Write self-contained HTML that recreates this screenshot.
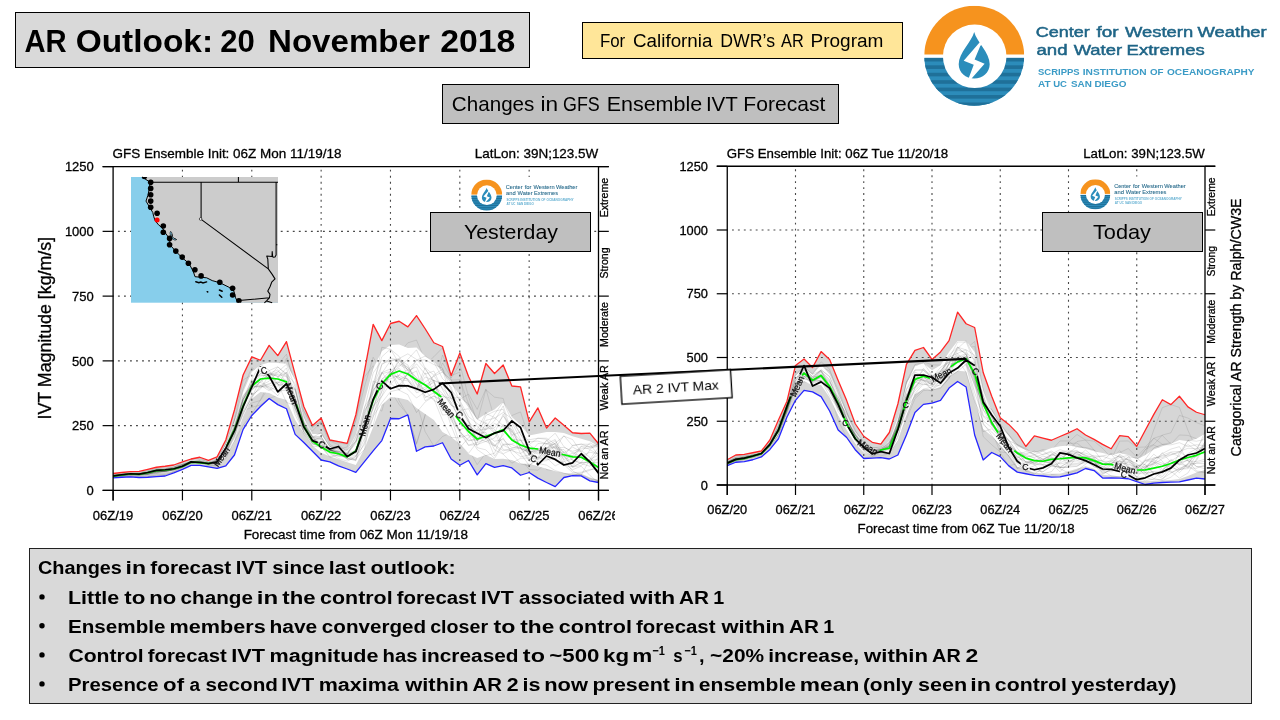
<!DOCTYPE html>
<html><head><meta charset="utf-8"><title>AR Outlook: 20 November 2018</title>
<style>
html,body{margin:0;padding:0;background:#fff;}
body{width:1280px;height:720px;position:relative;overflow:hidden;font-family:"Liberation Sans",sans-serif;}
</style></head><body>
<svg width="1280" height="720" viewBox="0 0 1280 720" style="position:absolute;left:0;top:0;will-change:transform" font-family="Liberation Sans, sans-serif">
<style>.grid{stroke:#484848;stroke-width:1.1}#frameL text,#frameR text,.axt{stroke:#000;stroke-width:0.3px}text{font-family:"Liberation Sans",sans-serif}</style>
<g id="chartL"><mask id="mM11" maskUnits="userSpaceOnUse" x="0" y="0" width="1280" height="720"><rect width="1280" height="720" fill="#fff"/>
<rect transform="translate(221.3 456.6) rotate(-55)" x="-12" y="-4.5" width="24" height="9" fill="#000"/>
<rect transform="translate(291.4 393.6) rotate(68)" x="-12" y="-4.5" width="24" height="9" fill="#000"/>
<rect transform="translate(364.5 425.5) rotate(-75)" x="-12" y="-4.5" width="24" height="9" fill="#000"/>
<rect transform="translate(446.6 408) rotate(50)" x="-12" y="-4.5" width="24" height="9" fill="#000"/>
<rect transform="translate(550 451.6) rotate(10)" x="-12" y="-4.5" width="24" height="9" fill="#000"/>
</mask>
<mask id="mC11" maskUnits="userSpaceOnUse" x="0" y="0" width="1280" height="720"><rect width="1280" height="720" fill="#fff"/>
<rect transform="translate(263.9 370.4) rotate(-15)" x="-4.5" y="-4.5" width="9" height="9" fill="#000"/>
<rect transform="translate(321.9 444.4) rotate(25)" x="-4.5" y="-4.5" width="9" height="9" fill="#000"/>
<rect transform="translate(379.5 386.2) rotate(-50)" x="-4.5" y="-4.5" width="9" height="9" fill="#000"/>
<rect transform="translate(459.5 414.6) rotate(50)" x="-4.5" y="-4.5" width="9" height="9" fill="#000"/>
<rect transform="translate(533.8 458.6) rotate(25)" x="-4.5" y="-4.5" width="9" height="9" fill="#000"/>
</mask>
<path d="M113.1 473.5 L121.77 472.5 L130.44 471.6 L139.11 471.4 L147.77 469.4 L156.44 467.25 L165.11 466.25 L173.78 465 L182.45 461.9 L191.12 459 L199.79 457.25 L208.46 460.4 L217.12 456.9 L225.79 440 L234.46 410 L243.13 375 L251.8 356.9 L260.47 360.25 L269.14 345.4 L277.81 355.6 L286.48 341.6 L295.14 374.4 L303.81 406.5 L312.48 425.4 L321.15 418.1 L329.82 440 L338.49 441.6 L347.16 443.4 L355.82 415 L364.49 371 L373.16 324.4 L381.83 340.6 L390.5 323.5 L399.17 321.25 L407.84 326.9 L416.51 315.6 L425.17 328.75 L433.84 342.75 L442.51 346.5 L451.18 375.6 L459.85 353.1 L468.52 376.5 L477.19 394 L485.86 363.5 L494.52 373.5 L503.19 365 L511.86 386 L520.53 386.9 L529.2 421.9 L537.87 407.9 L546.54 428.1 L555.21 418 L563.88 425.3 L572.54 432.75 L581.21 433.5 L589.88 433.1 L598.55 443.75 L598.55 482.5 L589.88 480.9 L581.21 475.9 L572.54 475.6 L563.88 477.5 L555.21 486.6 L546.54 482.5 L537.87 478.1 L529.2 472.5 L520.53 475.25 L511.86 467.9 L503.19 465.6 L494.52 467.4 L485.86 463.6 L477.19 474.9 L468.52 460.5 L459.85 465.3 L451.18 459 L442.51 442.75 L433.84 446 L425.17 446.9 L416.51 451.25 L407.84 414.9 L399.17 418.75 L390.5 418.5 L381.83 440.6 L373.16 450.9 L364.49 461.6 L355.82 472.4 L347.16 469 L338.49 465.9 L329.82 461.9 L321.15 460 L312.48 451.25 L303.81 442.5 L295.14 434.4 L286.48 408.75 L277.81 404.6 L269.14 398.5 L260.47 406.5 L251.8 415.5 L243.13 429.4 L234.46 455 L225.79 465.9 L217.12 468.4 L208.46 466.9 L199.79 465.4 L191.12 465.4 L182.45 469.4 L173.78 472.9 L165.11 476 L156.44 476.6 L147.77 477.25 L139.11 477.5 L130.44 476.9 L121.77 477.25 L113.1 477.9 Z" fill="#d6d6d6"/>
<path d="M113.1 475.96 L121.77 475.52 L130.44 475.33 L139.11 475.33 L147.77 473.62 L156.44 471.37 L165.11 470.18 L173.78 469.01 L182.45 465.98 L191.12 462.34 L199.79 459.64 L208.46 461.98 L217.12 460.43 L225.79 452.3 L234.46 435.05 L243.13 408.69 L251.8 403.02 L260.47 400.44 L269.14 386.81 L277.81 379.71 L286.48 358.28 L295.14 381.46 L303.81 410.68 L312.48 427.54 L321.15 420.63 L329.82 441.18 L338.49 444.62 L347.16 451.8 L355.82 443.55 L364.49 431.42 L373.16 407 L381.83 405.9 L390.5 379.77 L399.17 374.95 L407.84 374.4 L416.51 402.87 L425.17 431.69 L433.84 446 L442.51 436.51 L451.18 432.66 L459.85 399.4 L468.52 394.17 L477.19 409.38 L485.86 388.93 L494.52 418.6 L503.19 421.43 L511.86 444.35 L520.53 452.35 L529.2 460.77 L537.87 449.19 L546.54 450.84 L555.21 444.33 L563.88 456.13 L572.54 463.01 L581.21 462.5 L589.88 452.01 L598.55 451.05" fill="none" stroke="#000" stroke-opacity="0.13" stroke-width="0.7"/>
<path d="M113.1 476.73 L121.77 475.19 L130.44 473.26 L139.11 472.97 L147.77 472.78 L156.44 473.29 L165.11 472.07 L173.78 467.36 L182.45 462.13 L191.12 459 L199.79 458.12 L208.46 462.46 L217.12 461.04 L225.79 450.12 L234.46 426.19 L243.13 393.24 L251.8 379.94 L260.47 374.29 L269.14 362.79 L277.81 364.7 L286.48 354.23 L295.14 388.75 L303.81 423.83 L312.48 443.54 L321.15 451.73 L329.82 454.93 L338.49 455.49 L347.16 455.48 L355.82 447.35 L364.49 423.88 L373.16 404.68 L381.83 393.05 L390.5 370.91 L399.17 361.01 L407.84 363.73 L416.51 370.77 L425.17 364.73 L433.84 356.79 L442.51 347.84 L451.18 380.15 L459.85 379.55 L468.52 403.69 L477.19 427.92 L485.86 412.17 L494.52 431.11 L503.19 437.87 L511.86 447.48 L520.53 448.72 L529.2 449.59 L537.87 437.38 L546.54 453.56 L555.21 460.03 L563.88 457.4 L572.54 453.47 L581.21 453.15 L589.88 467.46 L598.55 482.07" fill="none" stroke="#000" stroke-opacity="0.13" stroke-width="0.7"/>
<path d="M113.1 475.88 L121.77 476.07 L130.44 476.16 L139.11 475.59 L147.77 471.96 L156.44 468.85 L165.11 468.13 L173.78 468.57 L182.45 465.43 L191.12 462.68 L199.79 461.58 L208.46 464.5 L217.12 462.55 L225.79 450.29 L234.46 421.38 L243.13 388.25 L251.8 367.41 L260.47 374.58 L269.14 372.18 L277.81 388.74 L286.48 389.24 L295.14 409.73 L303.81 423.47 L312.48 430.99 L321.15 421.74 L329.82 440.37 L338.49 442.91 L347.16 444.16 L355.82 420.49 L364.49 386.49 L373.16 357.27 L381.83 371.75 L390.5 374.38 L399.17 400.99 L407.84 414.9 L416.51 443.37 L425.17 414.67 L433.84 386.57 L442.51 355.04 L451.18 375.71 L459.85 372.07 L468.52 429.3 L477.19 456.12 L485.86 440.2 L494.52 419.45 L503.19 417.41 L511.86 427.27 L520.53 446.92 L529.2 451.83 L537.87 450.63 L546.54 453.96 L555.21 461.07 L563.88 465.67 L572.54 474.01 L581.21 474.74 L589.88 478.82 L598.55 480.44" fill="none" stroke="#000" stroke-opacity="0.13" stroke-width="0.7"/>
<path d="M113.1 477.15 L121.77 476.23 L130.44 476.03 L139.11 476.76 L147.77 476.5 L156.44 475.05 L165.11 474.45 L173.78 471.62 L182.45 467.51 L191.12 463.05 L199.79 461.69 L208.46 463.57 L217.12 461.97 L225.79 452.07 L234.46 441.12 L243.13 425.2 L251.8 414 L260.47 399.76 L269.14 382.11 L277.81 387.34 L286.48 385.19 L295.14 409.62 L303.81 427.08 L312.48 435.5 L321.15 434.61 L329.82 446.4 L338.49 450.68 L347.16 453.1 L355.82 440.03 L364.49 418.69 L373.16 405.31 L381.83 411.19 L390.5 379.82 L399.17 353.11 L407.84 342.85 L416.51 340.05 L425.17 360.4 L433.84 375.8 L442.51 386.99 L451.18 425.19 L459.85 434.41 L468.52 436.24 L477.19 449.72 L485.86 417.85 L494.52 418.25 L503.19 404.73 L511.86 432.63 L520.53 458.16 L529.2 469.55 L537.87 470.14 L546.54 463.31 L555.21 448.16 L563.88 439.72 L572.54 446.03 L581.21 455.48 L589.88 471.65 L598.55 482.5" fill="none" stroke="#000" stroke-opacity="0.13" stroke-width="0.7"/>
<path d="M113.1 477.65 L121.77 476.04 L130.44 473.96 L139.11 472.83 L147.77 470.51 L156.44 468.58 L165.11 468.35 L173.78 467.65 L182.45 465.23 L191.12 462.35 L199.79 462.52 L208.46 465.71 L217.12 465.96 L225.79 452.12 L234.46 419.23 L243.13 379.94 L251.8 374.87 L260.47 377.64 L269.14 372.29 L277.81 380.9 L286.48 373.53 L295.14 395.11 L303.81 411.17 L312.48 426.11 L321.15 422.34 L329.82 444.36 L338.49 449.36 L347.16 446.98 L355.82 419.82 L364.49 377.04 L373.16 365.7 L381.83 391.81 L390.5 390.85 L399.17 404.53 L407.84 414.9 L416.51 444.36 L425.17 415.44 L433.84 385.04 L442.51 362.92 L451.18 378.02 L459.85 364.19 L468.52 396.75 L477.19 421.78 L485.86 389.75 L494.52 397.17 L503.19 398.48 L511.86 430.46 L520.53 445.18 L529.2 457.34 L537.87 458.63 L546.54 469.63 L555.21 470.66 L563.88 465.21 L572.54 462.47 L581.21 462.9 L589.88 457.09 L598.55 457.22" fill="none" stroke="#000" stroke-opacity="0.13" stroke-width="0.7"/>
<path d="M113.1 476.09 L121.77 475.58 L130.44 475.3 L139.11 475.51 L147.77 475.1 L156.44 475.17 L165.11 475.09 L173.78 471.93 L182.45 466.94 L191.12 462.66 L199.79 461.51 L208.46 464.68 L217.12 465.57 L225.79 458.82 L234.46 440.2 L243.13 410.79 L251.8 407.38 L260.47 404.95 L269.14 398.5 L277.81 395.21 L286.48 390.85 L295.14 416.33 L303.81 434.31 L312.48 442.37 L321.15 437.55 L329.82 446.56 L338.49 450.69 L347.16 456.77 L355.82 446.88 L364.49 415.08 L373.16 367.83 L381.83 381.09 L390.5 357.63 L399.17 362.55 L407.84 358.92 L416.51 369.83 L425.17 371.67 L433.84 372.24 L442.51 375.9 L451.18 414.32 L459.85 430.91 L468.52 449.2 L477.19 464.63 L485.86 453.02 L494.52 443.39 L503.19 426 L511.86 415.52 L520.53 411.89 L529.2 438.53 L537.87 440.13 L546.54 460.42 L555.21 463.75 L563.88 462.33 L572.54 461.96 L581.21 457.35 L589.88 453.54 L598.55 456.38" fill="none" stroke="#000" stroke-opacity="0.13" stroke-width="0.7"/>
<path d="M113.1 474.99 L121.77 473.88 L130.44 472.92 L139.11 473 L147.77 471.21 L156.44 469.09 L165.11 468.31 L173.78 467.2 L182.45 464.43 L191.12 460.71 L199.79 460.25 L208.46 462.21 L217.12 459.7 L225.79 444.4 L234.46 421 L243.13 392.05 L251.8 372 L260.47 365 L269.14 362.5 L277.81 363.1 L286.48 363.75 L295.14 380 L303.81 417.36 L312.48 434.12 L321.15 433.94 L329.82 446.66 L338.49 448.28 L347.16 450.82 L355.82 434.8 L364.49 401.39 L373.16 368.75 L381.83 351.25 L390.5 345 L399.17 344.4 L407.84 348.1 L416.51 347.5 L425.17 356.25 L433.84 361.25 L442.51 372.5 L451.18 383.75 L459.85 395 L468.52 407.5 L477.19 419.4 L485.86 413.75 L494.52 409.4 L503.19 402 L511.86 416.9 L520.53 425 L529.2 435.6 L537.87 433.75 L546.54 431.9 L555.21 431.9 L563.88 433.1 L572.54 436.25 L581.21 438.75 L589.88 441.25 L598.55 446.25 L598.55 480 L589.88 477.5 L581.21 473.75 L572.54 473.5 L563.88 473.1 L555.21 471.25 L546.54 468.75 L537.87 466.25 L529.2 463.75 L520.53 463.75 L511.86 460 L503.19 458.75 L494.52 459 L485.86 455 L477.19 458 L468.52 454 L459.85 444 L451.18 437 L442.51 432 L433.84 420 L425.17 414 L416.51 408 L407.84 400 L399.17 398 L390.5 397 L381.83 405 L373.16 426.9 L364.49 448.75 L355.82 465 L347.16 462.34 L338.49 459.22 L329.82 456.51 L321.15 452.79 L312.48 445.75 L303.81 433.56 L295.14 420 L286.48 400 L277.81 397.5 L269.14 393.1 L260.47 391.9 L251.8 398.75 L243.13 416.53 L234.46 441.25 L225.79 456.06 L217.12 464.88 L208.46 465.14 L199.79 463.91 L191.12 463.58 L182.45 467.81 L173.78 470.75 L165.11 472.7 L156.44 473.3 L147.77 474.75 L139.11 475.74 L130.44 475.31 L121.77 476.01 L113.1 476.96 Z" fill="#ffffff"/>
<path d="M113.1 477.11 L121.77 475.46 L130.44 474.69 L139.11 475.13 L147.77 474.55 L156.44 472.45 L165.11 470.04 L173.78 468.62 L182.45 465.66 L191.12 462.36 L199.79 461.38 L208.46 463.84 L217.12 462.33 L225.79 452.6 L234.46 433.45 L243.13 407.7 L251.8 390.38 L260.47 381.92 L269.14 373.73 L277.81 376.59 L286.48 372.67 L295.14 408.63 L303.81 432.24 L312.48 443.92 L321.15 445.01 L329.82 448.31 L338.49 451.06 L347.16 455.83 L355.82 460.24 L364.49 442.36 L373.16 403.78 L381.83 363.54 L390.5 360.77 L399.17 377.83 L407.84 378.77 L416.51 388.4 L425.17 367.82 L433.84 375.03 L442.51 369.14 L451.18 399.39 L459.85 412.69 L468.52 427.43 L477.19 434.57 L485.86 425.24 L494.52 433.04 L503.19 414.18 L511.86 435.36 L520.53 431.79 L529.2 441.65 L537.87 441.07 L546.54 443.82 L555.21 448.32 L563.88 447.32 L572.54 451.31 L581.21 448.92 L589.88 447.79 L598.55 446.55" fill="none" stroke="#000" stroke-opacity="0.16" stroke-width="0.7"/>
<path d="M113.1 476.33 L121.77 475.23 L130.44 474.67 L139.11 474.97 L147.77 474.28 L156.44 471.57 L165.11 471.15 L173.78 469.43 L182.45 467.56 L191.12 462.83 L199.79 462.14 L208.46 463.75 L217.12 462.19 L225.79 453.56 L234.46 436.59 L243.13 409.98 L251.8 382.51 L260.47 373.64 L269.14 374.04 L277.81 373.89 L286.48 376.83 L295.14 397.33 L303.81 429.4 L312.48 439.09 L321.15 441.84 L329.82 450.32 L338.49 451.82 L347.16 453.51 L355.82 441.81 L364.49 431.31 L373.16 425.44 L381.83 390.03 L390.5 373.08 L399.17 368.31 L407.84 380.24 L416.51 389.83 L425.17 381.96 L433.84 376.05 L442.51 372.07 L451.18 379.76 L459.85 401.87 L468.52 422.51 L477.19 441.03 L485.86 429.4 L494.52 420.89 L503.19 405.89 L511.86 433.22 L520.53 453.64 L529.2 465.5 L537.87 457.45 L546.54 443.47 L555.21 444.69 L563.88 452.66 L572.54 466.17 L581.21 457.09 L589.88 460.32 L598.55 459.51" fill="none" stroke="#000" stroke-opacity="0.16" stroke-width="0.7"/>
<path d="M113.1 475.94 L121.77 474.99 L130.44 473.6 L139.11 474.13 L147.77 473.08 L156.44 471.64 L165.11 470.46 L173.78 468.77 L182.45 466.27 L191.12 461.93 L199.79 460.81 L208.46 462.81 L217.12 460.33 L225.79 449.8 L234.46 433.13 L243.13 414.65 L251.8 396.29 L260.47 387.24 L269.14 383.48 L277.81 382.46 L286.48 382.02 L295.14 411.04 L303.81 431.5 L312.48 442.92 L321.15 447.58 L329.82 453.5 L338.49 458.55 L347.16 461.12 L355.82 456.98 L364.49 438.82 L373.16 416.49 L381.83 402.69 L390.5 391.6 L399.17 389.54 L407.84 384.75 L416.51 388.96 L425.17 376.94 L433.84 380.53 L442.51 384.92 L451.18 393.36 L459.85 404.17 L468.52 419.92 L477.19 440.85 L485.86 434.27 L494.52 441.22 L503.19 439.53 L511.86 447.55 L520.53 447.36 L529.2 450.56 L537.87 454.01 L546.54 450.19 L555.21 459.4 L563.88 463.11 L572.54 469.66 L581.21 466.22 L589.88 475.46 L598.55 482.5" fill="none" stroke="#000" stroke-opacity="0.16" stroke-width="0.7"/>
<path d="M113.1 475.18 L121.77 474.82 L130.44 474.24 L139.11 474.23 L147.77 471.64 L156.44 469.47 L165.11 468.66 L173.78 467.56 L182.45 464.86 L191.12 461.81 L199.79 462.44 L208.46 464.33 L217.12 463.6 L225.79 453.26 L234.46 441.14 L243.13 412.53 L251.8 397.48 L260.47 378.76 L269.14 377.55 L277.81 379.19 L286.48 380.17 L295.14 404.5 L303.81 422.63 L312.48 440.28 L321.15 437.04 L329.82 449.86 L338.49 452.57 L347.16 454.73 L355.82 451.57 L364.49 423.35 L373.16 408.78 L381.83 379.29 L390.5 370.75 L399.17 364.75 L407.84 369.23 L416.51 377.79 L425.17 385.11 L433.84 392.34 L442.51 396.43 L451.18 398.28 L459.85 397.28 L468.52 404.01 L477.19 419.15 L485.86 423.57 L494.52 429.47 L503.19 445.14 L511.86 449.53 L520.53 448.02 L529.2 453.56 L537.87 457.54 L546.54 459.29 L555.21 459.57 L563.88 451.34 L572.54 460.46 L581.21 462.64 L589.88 462.76 L598.55 462.49" fill="none" stroke="#000" stroke-opacity="0.16" stroke-width="0.7"/>
<path d="M113.1 476.41 L121.77 475.6 L130.44 474.79 L139.11 475.2 L147.77 474.2 L156.44 472.9 L165.11 470.58 L173.78 468.73 L182.45 465.65 L191.12 461.86 L199.79 460.78 L208.46 462.73 L217.12 460.43 L225.79 448.1 L234.46 428.7 L243.13 405.02 L251.8 383.99 L260.47 376.02 L269.14 374.54 L277.81 384.64 L286.48 385.61 L295.14 414.56 L303.81 432.63 L312.48 446.15 L321.15 446.99 L329.82 449.74 L338.49 452.49 L347.16 458.1 L355.82 460.83 L364.49 430.81 L373.16 391.41 L381.83 373.66 L390.5 371.5 L399.17 379.46 L407.84 380.83 L416.51 390.8 L425.17 387.11 L433.84 382.46 L442.51 400.06 L451.18 425.86 L459.85 447.68 L468.52 437.76 L477.19 429.63 L485.86 413.36 L494.52 417.57 L503.19 425.75 L511.86 431.66 L520.53 440.31 L529.2 439.72 L537.87 438.28 L546.54 439.27 L555.21 448.26 L563.88 459.56 L572.54 455.8 L581.21 455.98 L589.88 452.22 L598.55 453.98" fill="none" stroke="#000" stroke-opacity="0.16" stroke-width="0.7"/>
<path d="M113.1 475.91 L121.77 475.36 L130.44 474.28 L139.11 473.79 L147.77 472.19 L156.44 471.3 L165.11 471.9 L173.78 469.15 L182.45 465.97 L191.12 461.36 L199.79 462.07 L208.46 463.59 L217.12 463.07 L225.79 452.92 L234.46 435.41 L243.13 408.31 L251.8 386.83 L260.47 387.15 L269.14 386.03 L277.81 383.69 L286.48 371.94 L295.14 397.13 L303.81 422.17 L312.48 437.5 L321.15 436.77 L329.82 449.94 L338.49 454.91 L347.16 456.42 L355.82 453.45 L364.49 417.58 L373.16 386.39 L381.83 364.8 L390.5 358.24 L399.17 360.24 L407.84 364.91 L416.51 383.84 L425.17 390.4 L433.84 380.53 L442.51 382.98 L451.18 403.8 L459.85 418.4 L468.52 424.65 L477.19 433.34 L485.86 432.43 L494.52 449.83 L503.19 454.18 L511.86 463.23 L520.53 458.24 L529.2 458 L537.87 450.67 L546.54 449.08 L555.21 443.07 L563.88 455.85 L572.54 467.15 L581.21 465.39 L589.88 459.45 L598.55 455.06" fill="none" stroke="#000" stroke-opacity="0.16" stroke-width="0.7"/>
<path d="M113.1 475.58 L121.77 474.55 L130.44 473.7 L139.11 473.67 L147.77 472.37 L156.44 471.31 L165.11 471.36 L173.78 470.14 L182.45 466.84 L191.12 462.25 L199.79 462.08 L208.46 464.13 L217.12 463.35 L225.79 448.44 L234.46 424.41 L243.13 399.31 L251.8 387.03 L260.47 386.03 L269.14 388.01 L277.81 395.75 L286.48 382.22 L295.14 398.35 L303.81 424.66 L312.48 439.47 L321.15 438.35 L329.82 448.72 L338.49 454.91 L347.16 457.82 L355.82 451.63 L364.49 410.36 L373.16 398.5 L381.83 379.14 L390.5 374.55 L399.17 361.14 L407.84 367.25 L416.51 377.97 L425.17 400.64 L433.84 395.8 L442.51 402.16 L451.18 415.58 L459.85 430.92 L468.52 445.12 L477.19 442.52 L485.86 439.44 L494.52 445.47 L503.19 453.71 L511.86 449.66 L520.53 456.68 L529.2 455.21 L537.87 463.4 L546.54 465.16 L555.21 470.62 L563.88 473.14 L572.54 475.6 L581.21 473.07 L589.88 470.36 L598.55 466.22" fill="none" stroke="#000" stroke-opacity="0.16" stroke-width="0.7"/>
<path d="M113.1 476.68 L121.77 475.4 L130.44 474.28 L139.11 473.68 L147.77 472.65 L156.44 471.98 L165.11 471.82 L173.78 469.04 L182.45 464.87 L191.12 461.15 L199.79 461.04 L208.46 463.95 L217.12 461.84 L225.79 449.3 L234.46 421 L243.13 399.13 L251.8 385.88 L260.47 379.82 L269.14 370.55 L277.81 366.79 L286.48 374.84 L295.14 408.88 L303.81 425.7 L312.48 437.39 L321.15 432.53 L329.82 446.79 L338.49 449.12 L347.16 454.72 L355.82 450.6 L364.49 425.91 L373.16 383.65 L381.83 356.74 L390.5 348.99 L399.17 363.59 L407.84 367.47 L416.51 381.24 L425.17 390.15 L433.84 400.58 L442.51 403.92 L451.18 413.71 L459.85 433.03 L468.52 445.46 L477.19 444.46 L485.86 441.4 L494.52 446.07 L503.19 434.85 L511.86 422.64 L520.53 439.01 L529.2 453.81 L537.87 460.12 L546.54 454.2 L555.21 450.19 L563.88 449.52 L572.54 460.01 L581.21 463.51 L589.88 466.24 L598.55 457.04" fill="none" stroke="#000" stroke-opacity="0.16" stroke-width="0.7"/>
<path d="M113.1 474.84 L121.77 474.16 L130.44 474.3 L139.11 474.97 L147.77 474.23 L156.44 471.14 L165.11 469.05 L173.78 467.22 L182.45 464.65 L191.12 462.06 L199.79 462.38 L208.46 464.55 L217.12 464.2 L225.79 452.87 L234.46 434.53 L243.13 396.62 L251.8 384.7 L260.47 369.57 L269.14 379.43 L277.81 383.62 L286.48 402.39 L295.14 405.73 L303.81 422.45 L312.48 437.07 L321.15 438.88 L329.82 450.42 L338.49 450.91 L347.16 459.25 L355.82 458.72 L364.49 449.43 L373.16 406.06 L381.83 391.96 L390.5 371.29 L399.17 390.3 L407.84 371.81 L416.51 389.31 L425.17 372.76 L433.84 393.25 L442.51 394.68 L451.18 402.05 L459.85 419.93 L468.52 425.46 L477.19 437.69 L485.86 415.46 L494.52 411.3 L503.19 409.25 L511.86 438.16 L520.53 445.31 L529.2 453.89 L537.87 443.54 L546.54 443.73 L555.21 439.46 L563.88 460.49 L572.54 471.03 L581.21 475.27 L589.88 459.29 L598.55 447.27" fill="none" stroke="#000" stroke-opacity="0.16" stroke-width="0.7"/>
<path d="M113.1 475.94 L121.77 474.76 L130.44 474.13 L139.11 474.04 L147.77 472.17 L156.44 471.11 L165.11 471.16 L173.78 469.85 L182.45 466.32 L191.12 461.6 L199.79 461.69 L208.46 463.26 L217.12 461.57 L225.79 448.37 L234.46 426.44 L243.13 403.04 L251.8 382.95 L260.47 373.48 L269.14 373.12 L277.81 376.26 L286.48 390.87 L295.14 406.62 L303.81 431.28 L312.48 440.61 L321.15 446.9 L329.82 450.38 L338.49 451.39 L347.16 449.96 L355.82 441.21 L364.49 424.61 L373.16 399.7 L381.83 372.6 L390.5 368.94 L399.17 379.93 L407.84 374.55 L416.51 360.23 L425.17 356.06 L433.84 362.04 L442.51 378.56 L451.18 386.97 L459.85 417.1 L468.52 428.93 L477.19 445.5 L485.86 436.11 L494.52 444.55 L503.19 450.84 L511.86 448.47 L520.53 445.11 L529.2 444.56 L537.87 438.19 L546.54 438.19 L555.21 444.17 L563.88 464.53 L572.54 472.62 L581.21 472.24 L589.88 469.3 L598.55 469.37" fill="none" stroke="#000" stroke-opacity="0.16" stroke-width="0.7"/>
<path d="M113.1 475.03 L121.77 474.21 L130.44 473.93 L139.11 473.9 L147.77 472.44 L156.44 470.29 L165.11 470.83 L173.78 469.91 L182.45 467.15 L191.12 462.26 L199.79 462.14 L208.46 464.08 L217.12 463.86 L225.79 451.72 L234.46 430.28 L243.13 399.06 L251.8 383.74 L260.47 382.34 L269.14 387.07 L277.81 390.75 L286.48 390.57 L295.14 404.2 L303.81 428.73 L312.48 441.26 L321.15 445.52 L329.82 449.12 L338.49 449.24 L347.16 453.68 L355.82 450.13 L364.49 427.13 L373.16 409.02 L381.83 380.84 L390.5 376.57 L399.17 358.69 L407.84 375.38 L416.51 370.92 L425.17 397.66 L433.84 392.69 L442.51 415.04 L451.18 414.08 L459.85 417.13 L468.52 435.35 L477.19 449.57 L485.86 455.64 L494.52 453.31 L503.19 431.38 L511.86 439.34 L520.53 440.05 L529.2 455.75 L537.87 448.99 L546.54 453.62 L555.21 453.99 L563.88 454.62 L572.54 455.89 L581.21 446.03 L589.88 446.44 L598.55 443.75" fill="none" stroke="#000" stroke-opacity="0.16" stroke-width="0.7"/>
<path d="M113.1 475.83 L121.77 475.57 L130.44 475.36 L139.11 474.91 L147.77 473.22 L156.44 471.64 L165.11 471.12 L173.78 469.34 L182.45 466.57 L191.12 462.02 L199.79 461.23 L208.46 462.52 L217.12 460.57 L225.79 447.39 L234.46 427.19 L243.13 399.9 L251.8 382.31 L260.47 371.38 L269.14 375.6 L277.81 374.7 L286.48 382.61 L295.14 390.54 L303.81 424.29 L312.48 436.29 L321.15 445.88 L329.82 452.56 L338.49 456.55 L347.16 456.48 L355.82 449.98 L364.49 430.22 L373.16 413.9 L381.83 396.31 L390.5 383.47 L399.17 390.19 L407.84 394.62 L416.51 412.54 L425.17 401.96 L433.84 396.26 L442.51 399.63 L451.18 420.82 L459.85 431.29 L468.52 441.02 L477.19 438.39 L485.86 441.59 L494.52 437.97 L503.19 424.32 L511.86 430.12 L520.53 447.76 L529.2 461.36 L537.87 461.48 L546.54 460.7 L555.21 454.51 L563.88 456.01 L572.54 445.28 L581.21 444.18 L589.88 444.31 L598.55 455.26" fill="none" stroke="#000" stroke-opacity="0.16" stroke-width="0.7"/>
<path d="M113.1 475.87 L121.77 474.3 L130.44 473.64 L139.11 474.02 L147.77 472.9 L156.44 470.2 L165.11 469.15 L173.78 467.88 L182.45 464.63 L191.12 461.69 L199.79 462.98 L208.46 465.36 L217.12 465.14 L225.79 453.14 L234.46 437.74 L243.13 403.59 L251.8 389.41 L260.47 378.97 L269.14 389.89 L277.81 381.6 L286.48 387.75 L295.14 389.3 L303.81 425.05 L312.48 440.65 L321.15 443.25 L329.82 449.93 L338.49 447.99 L347.16 452.57 L355.82 436.36 L364.49 419.39 L373.16 406.58 L381.83 396.13 L390.5 372.98 L399.17 366.45 L407.84 359.4 L416.51 349.83 L425.17 368.43 L433.84 382.13 L442.51 408.96 L451.18 417.42 L459.85 444.06 L468.52 453.4 L477.19 442.03 L485.86 422.43 L494.52 432.14 L503.19 449.6 L511.86 450.68 L520.53 453.56 L529.2 447.93 L537.87 452.95 L546.54 440.14 L555.21 452.1 L563.88 465.16 L572.54 466.72 L581.21 462.61 L589.88 449.9 L598.55 454.11" fill="none" stroke="#000" stroke-opacity="0.16" stroke-width="0.7"/>
<path d="M113.1 476.33 L121.77 474.36 L130.44 473.25 L139.11 473.8 L147.77 473.89 L156.44 472.63 L165.11 473.03 L173.78 469.43 L182.45 466.2 L191.12 462.6 L199.79 463.32 L208.46 463.61 L217.12 460.01 L225.79 444.16 L234.46 428.06 L243.13 400.2 L251.8 378.93 L260.47 364.49 L269.14 370.3 L277.81 384.13 L286.48 388.82 L295.14 407.6 L303.81 429.43 L312.48 444.26 L321.15 445.61 L329.82 449.39 L338.49 453.47 L347.16 459.24 L355.82 456.45 L364.49 427.39 L373.16 381.05 L381.83 384.82 L390.5 371.41 L399.17 385.36 L407.84 374.03 L416.51 363.75 L425.17 374.18 L433.84 371.02 L442.51 389.55 L451.18 405.35 L459.85 409.22 L468.52 421.93 L477.19 430.3 L485.86 429.23 L494.52 427.84 L503.19 416.2 L511.86 426.19 L520.53 447.36 L529.2 459.08 L537.87 457.95 L546.54 449.96 L555.21 445.72 L563.88 455.37 L572.54 467.18 L581.21 462.68 L589.88 461.69 L598.55 450.48" fill="none" stroke="#000" stroke-opacity="0.16" stroke-width="0.7"/>
<path d="M113.1 476.23 L121.77 475.01 L130.44 474.31 L139.11 474.78 L147.77 473.79 L156.44 471.84 L165.11 471.31 L173.78 469.93 L182.45 467.05 L191.12 463.09 L199.79 462.35 L208.46 464.27 L217.12 461.31 L225.79 450.54 L234.46 426.15 L243.13 401.65 L251.8 384.69 L260.47 385.17 L269.14 390.81 L277.81 385.69 L286.48 382.17 L295.14 388.93 L303.81 423.77 L312.48 438.77 L321.15 439.73 L329.82 449.77 L338.49 452.91 L347.16 458.8 L355.82 459.87 L364.49 428.04 L373.16 389.24 L381.83 347.22 L390.5 349.32 L399.17 356.43 L407.84 370.74 L416.51 366.84 L425.17 385.22 L433.84 379.88 L442.51 410.53 L451.18 411.67 L459.85 432.22 L468.52 440.13 L477.19 440.11 L485.86 427.69 L494.52 414.25 L503.19 402 L511.86 420.52 L520.53 434.26 L529.2 449.13 L537.87 448.56 L546.54 448.09 L555.21 440.6 L563.88 453.05 L572.54 447.07 L581.21 451.82 L589.88 442.82 L598.55 447.51" fill="none" stroke="#000" stroke-opacity="0.16" stroke-width="0.7"/>
<path d="M113.1 476.79 L121.77 475.94 L130.44 474.36 L139.11 473.98 L147.77 471.62 L156.44 469.96 L165.11 470.64 L173.78 468.42 L182.45 466.12 L191.12 461.8 L199.79 463.65 L208.46 464.34 L217.12 462.55 L225.79 449.18 L234.46 428.07 L243.13 397.56 L251.8 380.26 L260.47 374.9 L269.14 376.46 L277.81 367.01 L286.48 373.81 L295.14 383.77 L303.81 416.42 L312.48 437.29 L321.15 446.57 L329.82 457.25 L338.49 455.19 L347.16 454.7 L355.82 441.77 L364.49 412.64 L373.16 389.58 L381.83 382.35 L390.5 378.77 L399.17 375.34 L407.84 379.53 L416.51 392.78 L425.17 389.53 L433.84 375.45 L442.51 388.22 L451.18 398.4 L459.85 406.78 L468.52 419.89 L477.19 447.69 L485.86 449.89 L494.52 458.36 L503.19 444.81 L511.86 444.48 L520.53 448.83 L529.2 451.58 L537.87 459.51 L546.54 447.72 L555.21 448.03 L563.88 435.65 L572.54 445.83 L581.21 444.04 L589.88 447.14 L598.55 444.98" fill="none" stroke="#000" stroke-opacity="0.16" stroke-width="0.7"/>
<path d="M113.1 475.33 L121.77 474.36 L130.44 473.76 L139.11 474.73 L147.77 474.16 L156.44 473.54 L165.11 471.09 L173.78 468.88 L182.45 464.59 L191.12 461.6 L199.79 461.35 L208.46 463.41 L217.12 459.95 L225.79 443.81 L234.46 419.84 L243.13 395.57 L251.8 386.51 L260.47 386.14 L269.14 384.5 L277.81 377.43 L286.48 367.91 L295.14 398.95 L303.81 425.03 L312.48 443.45 L321.15 446.9 L329.82 456.33 L338.49 454.64 L347.16 455.03 L355.82 437.35 L364.49 406.99 L373.16 393.14 L381.83 372.08 L390.5 384.37 L399.17 374.52 L407.84 369.72 L416.51 360.46 L425.17 359.9 L433.84 364.52 L442.51 368.04 L451.18 389.97 L459.85 400.49 L468.52 416.74 L477.19 423.52 L485.86 429.51 L494.52 423.65 L503.19 426.92 L511.86 429.26 L520.53 448.38 L529.2 451.98 L537.87 450.68 L546.54 440.78 L555.21 433.23 L563.88 446.61 L572.54 452.84 L581.21 456.34 L589.88 462.45 L598.55 474.34" fill="none" stroke="#000" stroke-opacity="0.16" stroke-width="0.7"/>
<path d="M113.1 475.27 L121.77 474.3 L130.44 473.38 L139.11 473.2 L147.77 470.95 L156.44 469.6 L165.11 469.93 L173.78 469.82 L182.45 467.47 L191.12 462.94 L199.79 462.85 L208.46 464.21 L217.12 463.04 L225.79 452.01 L234.46 431.81 L243.13 413.65 L251.8 397.87 L260.47 385.53 L269.14 381.2 L277.81 371.49 L286.48 375.89 L295.14 388.87 L303.81 420.73 L312.48 436.29 L321.15 436.89 L329.82 450.23 L338.49 451.71 L347.16 453.52 L355.82 440.51 L364.49 414.71 L373.16 385.33 L381.83 373.24 L390.5 360.5 L399.17 358.51 L407.84 353.85 L416.51 359.41 L425.17 369.19 L433.84 381.08 L442.51 400.42 L451.18 418.84 L459.85 430.01 L468.52 425.85 L477.19 431.68 L485.86 420.34 L494.52 418.26 L503.19 412.48 L511.86 418.57 L520.53 434.41 L529.2 444.84 L537.87 450.77 L546.54 448.25 L555.21 443.18 L563.88 436.17 L572.54 439.48 L581.21 452.33 L589.88 464.58 L598.55 471.45" fill="none" stroke="#000" stroke-opacity="0.16" stroke-width="0.7"/>
<path d="M113.1 475.62 L121.77 474.46 L130.44 473.86 L139.11 474 L147.77 474.1 L156.44 472.27 L165.11 471.52 L173.78 469.78 L182.45 467.69 L191.12 463.57 L199.79 463.21 L208.46 463.95 L217.12 462.13 L225.79 447.5 L234.46 431.38 L243.13 411.3 L251.8 394.7 L260.47 389.1 L269.14 374.72 L277.81 371.85 L286.48 364.36 L295.14 387.06 L303.81 422.37 L312.48 440.94 L321.15 443.23 L329.82 450.53 L338.49 447.76 L347.16 453.87 L355.82 443.54 L364.49 408.74 L373.16 373.11 L381.83 360.33 L390.5 361.09 L399.17 359.4 L407.84 370.47 L416.51 384.6 L425.17 396.12 L433.84 398.71 L442.51 420.37 L451.18 437.41 L459.85 437.81 L468.52 434.84 L477.19 440.21 L485.86 435.5 L494.52 446.36 L503.19 437.9 L511.86 453.65 L520.53 463.71 L529.2 465.86 L537.87 458.58 L546.54 452.62 L555.21 446.28 L563.88 457.25 L572.54 453.21 L581.21 450.45 L589.88 457.33 L598.55 468.77" fill="none" stroke="#000" stroke-opacity="0.16" stroke-width="0.7"/>
<path d="M113.1 475.8 L121.77 474.49 L130.44 473.38 L139.11 473.46 L147.77 472.22 L156.44 469.92 L165.11 468.96 L173.78 467.02 L182.45 464.22 L191.12 461.35 L199.79 461.14 L208.46 463.38 L217.12 461.92 L225.79 451.28 L234.46 430.37 L243.13 404.39 L251.8 390.1 L260.47 381.9 L269.14 373.42 L277.81 369.85 L286.48 382.8 L295.14 403.48 L303.81 428.37 L312.48 439.21 L321.15 444.9 L329.82 450.68 L338.49 453.15 L347.16 456.18 L355.82 455.74 L364.49 444.61 L373.16 416.87 L381.83 385.67 L390.5 375.5 L399.17 377.15 L407.84 389.26 L416.51 398.01 L425.17 391.72 L433.84 385.5 L442.51 393.58 L451.18 405.12 L459.85 410.48 L468.52 408.68 L477.19 426.44 L485.86 435.11 L494.52 456.13 L503.19 444.09 L511.86 444.03 L520.53 439.92 L529.2 452.65 L537.87 449.24 L546.54 457.87 L555.21 465.86 L563.88 461.45 L572.54 459.02 L581.21 446.63 L589.88 449.31 L598.55 443.75" fill="none" stroke="#000" stroke-opacity="0.16" stroke-width="0.7"/>
<line x1="113.1" y1="425.64" x2="598.5" y2="425.64" class="grid" stroke-dasharray="1.9 4.13" stroke-dashoffset="1.2"/>
<line x1="113.1" y1="360.88" x2="598.5" y2="360.88" class="grid" stroke-dasharray="1.9 4.13" stroke-dashoffset="1.2"/>
<line x1="113.1" y1="296.12" x2="598.5" y2="296.12" class="grid" stroke-dasharray="1.9 4.13" stroke-dashoffset="1.2"/>
<line x1="113.1" y1="231.36" x2="598.5" y2="231.36" class="grid" stroke-dasharray="1.9 4.13" stroke-dashoffset="1.2"/>
<line x1="182.44" y1="166.6" x2="182.44" y2="490.4" class="grid" stroke-dasharray="1.9 4.13" stroke-dashoffset="2.93"/>
<line x1="251.79" y1="166.6" x2="251.79" y2="490.4" class="grid" stroke-dasharray="1.9 4.13" stroke-dashoffset="2.93"/>
<line x1="321.13" y1="166.6" x2="321.13" y2="490.4" class="grid" stroke-dasharray="1.9 4.13" stroke-dashoffset="2.93"/>
<line x1="390.47" y1="166.6" x2="390.47" y2="490.4" class="grid" stroke-dasharray="1.9 4.13" stroke-dashoffset="2.93"/>
<line x1="459.81" y1="166.6" x2="459.81" y2="490.4" class="grid" stroke-dasharray="1.9 4.13" stroke-dashoffset="2.93"/>
<line x1="529.16" y1="166.6" x2="529.16" y2="490.4" class="grid" stroke-dasharray="1.9 4.13" stroke-dashoffset="2.93"/>
<path d="M113.1 473.5 L121.77 472.5 L130.44 471.6 L139.11 471.4 L147.77 469.4 L156.44 467.25 L165.11 466.25 L173.78 465 L182.45 461.9 L191.12 459 L199.79 457.25 L208.46 460.4 L217.12 456.9 L225.79 440 L234.46 410 L243.13 375 L251.8 356.9 L260.47 360.25 L269.14 345.4 L277.81 355.6 L286.48 341.6 L295.14 374.4 L303.81 406.5 L312.48 425.4 L321.15 418.1 L329.82 440 L338.49 441.6 L347.16 443.4 L355.82 415 L364.49 371 L373.16 324.4 L381.83 340.6 L390.5 323.5 L399.17 321.25 L407.84 326.9 L416.51 315.6 L425.17 328.75 L433.84 342.75 L442.51 346.5 L451.18 375.6 L459.85 353.1 L468.52 376.5 L477.19 394 L485.86 363.5 L494.52 373.5 L503.19 365 L511.86 386 L520.53 386.9 L529.2 421.9 L537.87 407.9 L546.54 428.1 L555.21 418 L563.88 425.3 L572.54 432.75 L581.21 433.5 L589.88 433.1 L598.55 443.75" fill="none" stroke="#ff2626" stroke-width="1.3" stroke-linejoin="round"/>
<path d="M113.1 477.9 L121.77 477.25 L130.44 476.9 L139.11 477.5 L147.77 477.25 L156.44 476.6 L165.11 476 L173.78 472.9 L182.45 469.4 L191.12 465.4 L199.79 465.4 L208.46 466.9 L217.12 468.4 L225.79 465.9 L234.46 455 L243.13 429.4 L251.8 415.5 L260.47 406.5 L269.14 398.5 L277.81 404.6 L286.48 408.75 L295.14 434.4 L303.81 442.5 L312.48 451.25 L321.15 460 L329.82 461.9 L338.49 465.9 L347.16 469 L355.82 472.4 L364.49 461.6 L373.16 450.9 L381.83 440.6 L390.5 418.5 L399.17 418.75 L407.84 414.9 L416.51 451.25 L425.17 446.9 L433.84 446 L442.51 442.75 L451.18 459 L459.85 465.3 L468.52 460.5 L477.19 474.9 L485.86 463.6 L494.52 467.4 L503.19 465.6 L511.86 467.9 L520.53 475.25 L529.2 472.5 L537.87 478.1 L546.54 482.5 L555.21 486.6 L563.88 477.5 L572.54 475.6 L581.21 475.9 L589.88 480.9 L598.55 482.5" fill="none" stroke="#2626ff" stroke-width="1.3" stroke-linejoin="round"/>
<path d="M113.1 476.2 L121.77 475 L130.44 474 L139.11 474.3 L147.77 472.7 L156.44 470.6 L165.11 470 L173.78 469 L182.45 466.5 L191.12 462.1 L199.79 462.7 L208.46 463.7 L217.12 462 L225.79 448 L234.46 430 L243.13 406 L251.8 386 L260.47 379 L269.14 378.1 L277.81 379 L286.48 381.9 L295.14 401 L303.81 426.25 L312.48 441.25 L321.15 446.9 L329.82 452.1 L338.49 453.75 L347.16 456.9 L355.82 451 L364.49 426.25 L373.16 400.5 L381.83 383.75 L390.5 374.4 L399.17 371 L407.84 374 L416.51 380 L425.17 385 L433.84 391.25 L442.51 398 L451.18 410 L459.85 421.5 L468.52 431.5 L477.19 439 L485.86 436.3 L494.52 433.3 L503.19 429.6 L511.86 440 L520.53 445 L529.2 448.1 L537.87 449 L546.54 451 L555.21 453 L563.88 454.75 L572.54 456.9 L581.21 457.25 L589.88 461.9 L598.55 467.5" fill="none" stroke="#00f000" stroke-width="1.75" stroke-linejoin="round" mask="url(#mM11)"/>
<path d="M113.1 476 L121.77 474.75 L130.44 473.75 L139.11 474.1 L147.77 472.5 L156.44 470.4 L165.11 469.75 L173.78 468.75 L182.45 466.25 L191.12 461.9 L199.79 462.5 L208.46 463.5 L217.12 461.9 L225.79 448.1 L234.46 430.6 L243.13 406.5 L251.8 387 L260.47 366.9 L269.14 376 L277.81 391.9 L286.48 383.75 L295.14 402.2 L303.81 426.9 L312.48 440.6 L321.15 443.75 L329.82 449 L338.49 446.5 L347.16 456.5 L355.82 451.6 L364.49 427.5 L373.16 399.4 L381.83 381.25 L390.5 388.75 L399.17 385.6 L407.84 385.9 L416.51 388.75 L425.17 392.25 L433.84 389.4 L442.51 383.1 L451.18 392.5 L459.85 415.6 L468.52 428.75 L477.19 433.3 L485.86 437.7 L494.52 433.1 L503.19 430.6 L511.86 420.9 L520.53 427.5 L529.2 450.6 L537.87 464.75 L546.54 456 L555.21 459.4 L563.88 465 L572.54 462.9 L581.21 453.75 L589.88 461.9 L598.55 473.1" fill="none" stroke="#000" stroke-width="1.75" stroke-linejoin="round" mask="url(#mC11)"/>
<text transform="translate(221.3 456.6) rotate(-55)" x="-10.8" y="3.4" font-size="9.4" fill="#111" stroke="#111" stroke-width="0.25" textLength="21.6" lengthAdjust="spacingAndGlyphs">Mean</text>
<text transform="translate(263.9 370.4) rotate(-15)" x="-3.15" y="3.4" font-size="9.4" fill="#111" stroke="#111" stroke-width="0.25" textLength="6.3" lengthAdjust="spacingAndGlyphs">C</text>
<text transform="translate(291.4 393.6) rotate(68)" x="-10.8" y="3.4" font-size="9.4" fill="#111" stroke="#111" stroke-width="0.25" textLength="21.6" lengthAdjust="spacingAndGlyphs">Mean</text>
<text transform="translate(321.9 444.4) rotate(25)" x="-3.15" y="3.4" font-size="9.4" fill="#111" stroke="#111" stroke-width="0.25" textLength="6.3" lengthAdjust="spacingAndGlyphs">C</text>
<text transform="translate(364.5 425.5) rotate(-75)" x="-10.8" y="3.4" font-size="9.4" fill="#111" stroke="#111" stroke-width="0.25" textLength="21.6" lengthAdjust="spacingAndGlyphs">Mean</text>
<text transform="translate(379.5 386.2) rotate(-50)" x="-3.15" y="3.4" font-size="9.4" fill="#111" stroke="#111" stroke-width="0.25" textLength="6.3" lengthAdjust="spacingAndGlyphs">C</text>
<text transform="translate(446.6 408) rotate(50)" x="-10.8" y="3.4" font-size="9.4" fill="#111" stroke="#111" stroke-width="0.25" textLength="21.6" lengthAdjust="spacingAndGlyphs">Mean</text>
<text transform="translate(459.5 414.6) rotate(50)" x="-3.15" y="3.4" font-size="9.4" fill="#111" stroke="#111" stroke-width="0.25" textLength="6.3" lengthAdjust="spacingAndGlyphs">C</text>
<text transform="translate(550 451.6) rotate(10)" x="-10.8" y="3.4" font-size="9.4" fill="#111" stroke="#111" stroke-width="0.25" textLength="21.6" lengthAdjust="spacingAndGlyphs">Mean</text>
<text transform="translate(533.8 458.6) rotate(25)" x="-3.15" y="3.4" font-size="9.4" fill="#111" stroke="#111" stroke-width="0.25" textLength="6.3" lengthAdjust="spacingAndGlyphs">C</text></g>
<g id="chartR"><mask id="mM23" maskUnits="userSpaceOnUse" x="0" y="0" width="1280" height="720"><rect width="1280" height="720" fill="#fff"/>
<rect transform="translate(796.9 386.2) rotate(-65)" x="-12" y="-4.5" width="24" height="9" fill="#000"/>
<rect transform="translate(867.7 447) rotate(30)" x="-12" y="-4.5" width="24" height="9" fill="#000"/>
<rect transform="translate(941.2 374.4) rotate(-25)" x="-12" y="-4.5" width="24" height="9" fill="#000"/>
<rect transform="translate(1005 442.5) rotate(52)" x="-12" y="-4.5" width="24" height="9" fill="#000"/>
<rect transform="translate(1125 468.1) rotate(15)" x="-12" y="-4.5" width="24" height="9" fill="#000"/>
</mask>
<mask id="mC23" maskUnits="userSpaceOnUse" x="0" y="0" width="1280" height="720"><rect width="1280" height="720" fill="#fff"/>
<rect transform="translate(796.9 386.2) rotate(-65)" x="-12" y="-4.5" width="24" height="9" fill="#000"/>
<rect transform="translate(845.4 422.3) rotate(0)" x="-4.5" y="-4.5" width="9" height="9" fill="#000"/>
<rect transform="translate(905.6 405) rotate(0)" x="-4.5" y="-4.5" width="9" height="9" fill="#000"/>
<rect transform="translate(975.7 371.2) rotate(45)" x="-4.5" y="-4.5" width="9" height="9" fill="#000"/>
<rect transform="translate(1025.3 466.3) rotate(0)" x="-4.5" y="-4.5" width="9" height="9" fill="#000"/>
<rect transform="translate(1124 474.3) rotate(10)" x="-4.5" y="-4.5" width="9" height="9" fill="#000"/>
</mask>
<path d="M727.25 459.75 L735.78 455 L744.31 454.4 L752.84 452.75 L761.38 451 L769.91 440 L778.44 420 L786.97 401.2 L795.5 365.4 L804.03 359 L812.56 367.5 L821.09 351.6 L829.62 359.4 L838.16 380.6 L846.69 400.6 L855.22 423.75 L863.75 436.25 L872.28 442.3 L880.81 444.2 L889.34 432.5 L897.88 404 L906.41 364.4 L914.94 350.4 L923.47 347.5 L932 359.4 L940.53 351.9 L949.06 340.6 L957.59 312.1 L966.12 323.75 L974.66 327.5 L983.19 372.5 L991.72 396.25 L1000.25 417.8 L1008.78 424.4 L1017.31 433.1 L1025.84 446.5 L1034.38 435.9 L1042.91 438.1 L1051.44 440.25 L1059.97 436.5 L1068.5 432.9 L1077.03 428.75 L1085.56 435 L1094.09 439.4 L1102.62 444.4 L1111.16 448.75 L1119.69 435.6 L1128.22 436.6 L1136.75 446.25 L1145.28 430.3 L1153.81 414.4 L1162.34 399.75 L1170.88 404.6 L1179.41 396.25 L1187.94 406.9 L1196.47 412.25 L1205 414.75 L1205 479 L1196.47 478.1 L1187.94 480 L1179.41 481.9 L1170.88 482.1 L1162.34 482.5 L1153.81 483.1 L1145.28 484.5 L1136.75 481.6 L1128.22 478.75 L1119.69 478.1 L1111.16 477.9 L1102.62 478.1 L1094.09 470.6 L1085.56 468.5 L1077.03 472.9 L1068.5 475 L1059.97 476.9 L1051.44 477.1 L1042.91 476 L1034.38 475.4 L1025.84 473.75 L1017.31 472.1 L1008.78 465.9 L1000.25 456.6 L991.72 452.5 L983.19 460 L974.66 435 L966.12 387 L957.59 381.5 L949.06 388.1 L940.53 400.4 L932 403.1 L923.47 404.4 L914.94 412.5 L906.41 435 L897.88 455 L889.34 459 L880.81 457.6 L872.28 458.1 L863.75 458.5 L855.22 449.7 L846.69 437.5 L838.16 430 L829.62 411 L821.09 396.6 L812.56 391.9 L804.03 390.4 L795.5 400.3 L786.97 417 L778.44 438.75 L769.91 449.4 L761.38 456.9 L752.84 459.75 L744.31 461.6 L735.78 462.25 L727.25 465.6 Z" fill="#d6d6d6"/>
<path d="M727.25 465.6 L735.78 461.43 L744.31 459.64 L752.84 456.33 L761.38 453.73 L769.91 443.76 L778.44 426.91 L786.97 405.43 L795.5 373.71 L804.03 367.57 L812.56 373.95 L821.09 361.79 L829.62 369.08 L838.16 393.17 L846.69 415.14 L855.22 436.82 L863.75 448.58 L872.28 450.05 L880.81 449.96 L889.34 443.28 L897.88 430.55 L906.41 407.27 L914.94 394.7 L923.47 387.53 L932 391.42 L940.53 382.67 L949.06 369.18 L957.59 349.43 L966.12 358.23 L974.66 377.2 L983.19 404.72 L991.72 415 L1000.25 434.36 L1008.78 446.85 L1017.31 456.23 L1025.84 460.86 L1034.38 452.86 L1042.91 449.49 L1051.44 451.54 L1059.97 450.62 L1068.5 450.02 L1077.03 441.5 L1085.56 439.98 L1094.09 441.16 L1102.62 448.39 L1111.16 457.55 L1119.69 455.64 L1128.22 459.94 L1136.75 462.71 L1145.28 450.19 L1153.81 438.28 L1162.34 435.4 L1170.88 444.22 L1179.41 434.98 L1187.94 435.4 L1196.47 438.69 L1205 446.87" fill="none" stroke="#000" stroke-opacity="0.13" stroke-width="0.7"/>
<path d="M727.25 464.3 L735.78 459.92 L744.31 458.67 L752.84 457.21 L761.38 455.55 L769.91 447.25 L778.44 434.56 L786.97 410.33 L795.5 384.14 L804.03 367.96 L812.56 374.66 L821.09 365.32 L829.62 391.23 L838.16 420.57 L846.69 437.5 L855.22 448.97 L863.75 457.91 L872.28 456.55 L880.81 455.84 L889.34 453.83 L897.88 440.38 L906.41 408.76 L914.94 375.45 L923.47 361.8 L932 364.81 L940.53 365.19 L949.06 363.71 L957.59 360.8 L966.12 364.88 L974.66 376.46 L983.19 394.41 L991.72 410.09 L1000.25 431.5 L1008.78 444.35 L1017.31 453.36 L1025.84 460.87 L1034.38 457.71 L1042.91 460.23 L1051.44 462.38 L1059.97 462.55 L1068.5 466.12 L1077.03 468.59 L1085.56 464.95 L1094.09 463.31 L1102.62 467.77 L1111.16 469.73 L1119.69 465.62 L1128.22 461.29 L1136.75 460.15 L1145.28 449.63 L1153.81 445.04 L1162.34 448.89 L1170.88 456.22 L1179.41 449.87 L1187.94 449.05 L1196.47 444.36 L1205 444.93" fill="none" stroke="#000" stroke-opacity="0.13" stroke-width="0.7"/>
<path d="M727.25 462.33 L735.78 458.75 L744.31 459.2 L752.84 456.84 L761.38 454.39 L769.91 443.93 L778.44 428.04 L786.97 407.24 L795.5 379.28 L804.03 372.31 L812.56 379.19 L821.09 372.38 L829.62 379.61 L838.16 395.67 L846.69 412.75 L855.22 435.61 L863.75 446.61 L872.28 450.95 L880.81 449.73 L889.34 443.87 L897.88 419.26 L906.41 384.17 L914.94 366.66 L923.47 364.66 L932 379.92 L940.53 379.17 L949.06 371.86 L957.59 354.62 L966.12 358.68 L974.66 385.66 L983.19 414.41 L991.72 428.17 L1000.25 440.56 L1008.78 456.02 L1017.31 464.79 L1025.84 469.25 L1034.38 467.56 L1042.91 464.52 L1051.44 460.99 L1059.97 451.11 L1068.5 443.5 L1077.03 443.07 L1085.56 449.82 L1094.09 457.31 L1102.62 460.88 L1111.16 463.11 L1119.69 456.74 L1128.22 462.98 L1136.75 466.19 L1145.28 454.64 L1153.81 429.79 L1162.34 407.61 L1170.88 404.6 L1179.41 407.43 L1187.94 430.32 L1196.47 448.91 L1205 456.7" fill="none" stroke="#000" stroke-opacity="0.13" stroke-width="0.7"/>
<path d="M727.25 459.75 L735.78 455.69 L744.31 455.75 L752.84 455.74 L761.38 454.02 L769.91 446.42 L778.44 430.86 L786.97 412.04 L795.5 388.6 L804.03 381.81 L812.56 382.24 L821.09 371.97 L829.62 380.49 L838.16 393.7 L846.69 412.06 L855.22 429.84 L863.75 445.49 L872.28 448.47 L880.81 451.46 L889.34 445.24 L897.88 426.7 L906.41 388.2 L914.94 374.9 L923.47 377.98 L932 387.42 L940.53 387.07 L949.06 378.26 L957.59 357.35 L966.12 348.85 L974.66 341.48 L983.19 390.49 L991.72 413.9 L1000.25 439.04 L1008.78 449.38 L1017.31 462.25 L1025.84 468.28 L1034.38 471.09 L1042.91 471.6 L1051.44 467.98 L1059.97 457.44 L1068.5 442.1 L1077.03 434.44 L1085.56 440.02 L1094.09 450.07 L1102.62 454.99 L1111.16 459.15 L1119.69 450.6 L1128.22 460.65 L1136.75 469.8 L1145.28 468.48 L1153.81 454.87 L1162.34 447.3 L1170.88 459.69 L1179.41 466.49 L1187.94 472.33 L1196.47 468 L1205 470.5" fill="none" stroke="#000" stroke-opacity="0.13" stroke-width="0.7"/>
<path d="M727.25 465.6 L735.78 460.74 L744.31 458.38 L752.84 456.51 L761.38 454.3 L769.91 445.23 L778.44 428.21 L786.97 408.65 L795.5 385.62 L804.03 378.75 L812.56 380.31 L821.09 366.56 L829.62 371.2 L838.16 389.41 L846.69 411.89 L855.22 435.63 L863.75 449.71 L872.28 451.14 L880.81 450.04 L889.34 441.78 L897.88 423.2 L906.41 394.15 L914.94 378.43 L923.47 374.32 L932 386.74 L940.53 386.7 L949.06 378.47 L957.59 359.69 L966.12 363.3 L974.66 392.06 L983.19 436.62 L991.72 444.76 L1000.25 451.91 L1008.78 452.82 L1017.31 452.93 L1025.84 457.31 L1034.38 454.18 L1042.91 452.91 L1051.44 450.31 L1059.97 440.96 L1068.5 440.99 L1077.03 447.57 L1085.56 458.62 L1094.09 464.62 L1102.62 469.43 L1111.16 464.91 L1119.69 452.6 L1128.22 448.53 L1136.75 456.99 L1145.28 447.71 L1153.81 444.46 L1162.34 435.06 L1170.88 432.84 L1179.41 415.37 L1187.94 418.06 L1196.47 422.61 L1205 425.8" fill="none" stroke="#000" stroke-opacity="0.13" stroke-width="0.7"/>
<path d="M727.25 462.99 L735.78 459.15 L744.31 459.1 L752.84 457.79 L761.38 454.82 L769.91 444.3 L778.44 427.15 L786.97 408.08 L795.5 383.93 L804.03 372.53 L812.56 376.63 L821.09 371.26 L829.62 388.29 L838.16 415.78 L846.69 422.62 L855.22 440.02 L863.75 447.09 L872.28 453.25 L880.81 453.06 L889.34 452.03 L897.88 436.53 L906.41 419.5 L914.94 398.65 L923.47 390.65 L932 389.78 L940.53 388.41 L949.06 378.43 L957.59 353.01 L966.12 347.58 L974.66 346.53 L983.19 398.63 L991.72 430.57 L1000.25 452.49 L1008.78 465.9 L1017.31 463.45 L1025.84 462.26 L1034.38 456.56 L1042.91 464.26 L1051.44 474.64 L1059.97 473.2 L1068.5 467.58 L1077.03 457.24 L1085.56 455.33 L1094.09 457.13 L1102.62 459.32 L1111.16 459.68 L1119.69 441.11 L1128.22 440.95 L1136.75 447.32 L1145.28 447.03 L1153.81 438.15 L1162.34 444.32 L1170.88 442.89 L1179.41 456.91 L1187.94 460.44 L1196.47 462.47 L1205 458.03" fill="none" stroke="#000" stroke-opacity="0.13" stroke-width="0.7"/>
<path d="M727.25 461.7 L735.78 457.53 L744.31 456.55 L752.84 454.65 L761.38 452.49 L769.91 442.53 L778.44 425.61 L786.97 404.12 L795.5 375.63 L804.03 366.75 L812.56 374.51 L821.09 364.8 L829.62 374.17 L838.16 393.33 L846.69 413.47 L855.22 431.86 L863.75 442.44 L872.28 448.46 L880.81 447.39 L889.34 441.08 L897.88 417.61 L906.41 384.31 L914.94 366.35 L923.47 363.31 L932 370.18 L940.53 365.15 L949.06 352 L957.59 341 L966.12 341 L974.66 352 L983.19 389.69 L991.72 410.69 L1000.25 425 L1008.78 436 L1017.31 446.25 L1025.84 450 L1034.38 452.5 L1042.91 451.25 L1051.44 448.1 L1059.97 446.25 L1068.5 445.6 L1077.03 446.9 L1085.56 448.75 L1094.09 451.25 L1102.62 453.1 L1111.16 455 L1119.69 453.1 L1128.22 455 L1136.75 459.4 L1145.28 455 L1153.81 449.4 L1162.34 446.25 L1170.88 443.75 L1179.41 440 L1187.94 441.25 L1196.47 438.75 L1205 433.75 L1205 470 L1196.47 472.5 L1187.94 476 L1179.41 479 L1170.88 480 L1162.34 480.5 L1153.81 481 L1145.28 481.25 L1136.75 480 L1128.22 476.9 L1119.69 476.25 L1111.16 475.6 L1102.62 475 L1094.09 468.75 L1085.56 466.25 L1077.03 468.75 L1068.5 471.25 L1059.97 473.75 L1051.44 473.75 L1042.91 473.75 L1034.38 472.5 L1025.84 470 L1017.31 467.5 L1008.78 454.95 L1000.25 445.27 L991.72 436 L983.19 429.06 L974.66 401.31 L966.12 371.46 L957.59 370.72 L949.06 377.05 L940.53 386.98 L932 389.85 L923.47 388.92 L914.94 394.29 L906.41 416.08 L897.88 440.56 L889.34 453 L880.81 453.42 L872.28 455.57 L863.75 452.45 L855.22 443.54 L846.69 430.07 L838.16 415.56 L829.62 397.39 L821.09 385.05 L812.56 385.49 L804.03 380.88 L795.5 391.33 L786.97 411.23 L778.44 434.05 L769.91 446.76 L761.38 455.14 L752.84 457.8 L744.31 459.79 L735.78 460.79 L727.25 464.34 Z" fill="#ffffff"/>
<path d="M727.25 464.04 L735.78 459.29 L744.31 458.29 L752.84 455.87 L761.38 454.14 L769.91 444.53 L778.44 432.07 L786.97 408.92 L795.5 389.07 L804.03 372.69 L812.56 378.61 L821.09 370.4 L829.62 387.11 L838.16 411.69 L846.69 423.11 L855.22 439.83 L863.75 449.08 L872.28 452.93 L880.81 449.06 L889.34 443.04 L897.88 431.5 L906.41 411.52 L914.94 387.98 L923.47 376.77 L932 382.56 L940.53 379.98 L949.06 369.41 L957.59 358.26 L966.12 365.3 L974.66 398.23 L983.19 431.73 L991.72 428.79 L1000.25 437.34 L1008.78 447.38 L1017.31 464.1 L1025.84 470.52 L1034.38 474 L1042.91 468.4 L1051.44 461.62 L1059.97 452.62 L1068.5 452.6 L1077.03 452.77 L1085.56 459.26 L1094.09 466.98 L1102.62 468.12 L1111.16 461.1 L1119.69 455.06 L1128.22 465.98 L1136.75 472.04 L1145.28 468.18 L1153.81 459.66 L1162.34 453.52 L1170.88 449.12 L1179.41 446.65 L1187.94 460.87 L1196.47 470.99 L1205 471.9" fill="none" stroke="#000" stroke-opacity="0.16" stroke-width="0.7"/>
<path d="M727.25 463.2 L735.78 459.07 L744.31 457.9 L752.84 457.02 L761.38 454.31 L769.91 444.08 L778.44 429.49 L786.97 406.68 L795.5 387.22 L804.03 373.57 L812.56 382.92 L821.09 375.83 L829.62 382.06 L838.16 396.59 L846.69 417.21 L855.22 438.99 L863.75 448.42 L872.28 453.44 L880.81 450.23 L889.34 448.85 L897.88 426.35 L906.41 405.22 L914.94 388 L923.47 381.02 L932 383.55 L940.53 377.99 L949.06 375.96 L957.59 357.12 L966.12 356.76 L974.66 379.65 L983.19 423.05 L991.72 435.35 L1000.25 446.71 L1008.78 456.38 L1017.31 468.64 L1025.84 462.23 L1034.38 461.04 L1042.91 455.96 L1051.44 458.82 L1059.97 467.65 L1068.5 467.06 L1077.03 466.37 L1085.56 461.15 L1094.09 466.63 L1102.62 469.68 L1111.16 471.94 L1119.69 467.73 L1128.22 468.87 L1136.75 467.9 L1145.28 459.38 L1153.81 447.86 L1162.34 444.53 L1170.88 444.85 L1179.41 442.69 L1187.94 446.51 L1196.47 444.8 L1205 445.63" fill="none" stroke="#000" stroke-opacity="0.16" stroke-width="0.7"/>
<path d="M727.25 464.44 L735.78 460.52 L744.31 459.39 L752.84 456.65 L761.38 453.48 L769.91 443.64 L778.44 427.63 L786.97 408.76 L795.5 384.51 L804.03 379.18 L812.56 380.3 L821.09 372.28 L829.62 379.88 L838.16 403.53 L846.69 422.37 L855.22 439.79 L863.75 450.57 L872.28 455.7 L880.81 453.69 L889.34 453.59 L897.88 435.79 L906.41 405.67 L914.94 381.98 L923.47 384.75 L932 382.99 L940.53 377.26 L949.06 364.18 L957.59 362.68 L966.12 356.08 L974.66 371.41 L983.19 395.15 L991.72 423.12 L1000.25 432.46 L1008.78 440.69 L1017.31 444.66 L1025.84 448.5 L1034.38 454.56 L1042.91 461.61 L1051.44 462.83 L1059.97 457.67 L1068.5 453.86 L1077.03 453.7 L1085.56 458.12 L1094.09 461.26 L1102.62 466.92 L1111.16 469.59 L1119.69 468.08 L1128.22 473.3 L1136.75 476.9 L1145.28 480.82 L1153.81 478.9 L1162.34 470.39 L1170.88 462.45 L1179.41 460.6 L1187.94 467.92 L1196.47 468.28 L1205 464.75" fill="none" stroke="#000" stroke-opacity="0.16" stroke-width="0.7"/>
<path d="M727.25 464.48 L735.78 460.43 L744.31 459.07 L752.84 455.75 L761.38 453.32 L769.91 444.06 L778.44 432.7 L786.97 411.54 L795.5 389.54 L804.03 373.95 L812.56 380.33 L821.09 377.96 L829.62 388.77 L838.16 396.95 L846.69 418.19 L855.22 437.65 L863.75 447.8 L872.28 452.7 L880.81 451.02 L889.34 452.53 L897.88 437.32 L906.41 405.81 L914.94 381.62 L923.47 368.37 L932 377.92 L940.53 372.7 L949.06 369.17 L957.59 353.25 L966.12 349.72 L974.66 355.18 L983.19 389.75 L991.72 413.53 L1000.25 433.69 L1008.78 453.14 L1017.31 462.82 L1025.84 464.15 L1034.38 459.6 L1042.91 459.98 L1051.44 455.31 L1059.97 455.03 L1068.5 453.25 L1077.03 446.78 L1085.56 447.52 L1094.09 449.94 L1102.62 461.41 L1111.16 461.29 L1119.69 464.6 L1128.22 457.45 L1136.75 469.39 L1145.28 459.97 L1153.81 458.15 L1162.34 456.07 L1170.88 454.6 L1179.41 452.52 L1187.94 444.54 L1196.47 450.45 L1205 447.77" fill="none" stroke="#000" stroke-opacity="0.16" stroke-width="0.7"/>
<path d="M727.25 462.8 L735.78 459.29 L744.31 457.7 L752.84 456.88 L761.38 453.37 L769.91 443.56 L778.44 425.19 L786.97 403.58 L795.5 375.68 L804.03 366.41 L812.56 374.26 L821.09 370.57 L829.62 385.38 L838.16 408.72 L846.69 422.05 L855.22 439.58 L863.75 446.75 L872.28 449.85 L880.81 448.12 L889.34 442.29 L897.88 425.33 L906.41 394.33 L914.94 387.16 L923.47 375.79 L932 377.53 L940.53 367.35 L949.06 361.91 L957.59 347.17 L966.12 354.17 L974.66 382.79 L983.19 424.61 L991.72 432.01 L1000.25 440.82 L1008.78 453.64 L1017.31 467.68 L1025.84 466.63 L1034.38 461.42 L1042.91 461 L1051.44 463.88 L1059.97 471.76 L1068.5 463.12 L1077.03 463.29 L1085.56 461.18 L1094.09 463.66 L1102.62 466.52 L1111.16 463.44 L1119.69 461.74 L1128.22 464.5 L1136.75 466.56 L1145.28 472.54 L1153.81 462.33 L1162.34 469.28 L1170.88 464.83 L1179.41 472.72 L1187.94 464.17 L1196.47 450.73 L1205 431.67" fill="none" stroke="#000" stroke-opacity="0.16" stroke-width="0.7"/>
<path d="M727.25 462.72 L735.78 458.66 L744.31 457.08 L752.84 454.98 L761.38 452.94 L769.91 443.14 L778.44 427.5 L786.97 405.13 L795.5 378.18 L804.03 372.48 L812.56 381.49 L821.09 377.1 L829.62 388.29 L838.16 399.6 L846.69 423.36 L855.22 434.9 L863.75 447.6 L872.28 452.78 L880.81 451.59 L889.34 446.27 L897.88 421.5 L906.41 398.27 L914.94 386.36 L923.47 379.53 L932 383.01 L940.53 378.99 L949.06 376.89 L957.59 371.48 L966.12 364.29 L974.66 384.61 L983.19 398.94 L991.72 417.01 L1000.25 428.32 L1008.78 440.89 L1017.31 451.98 L1025.84 453.79 L1034.38 458.32 L1042.91 464.88 L1051.44 466.21 L1059.97 466.87 L1068.5 462.54 L1077.03 457.47 L1085.56 459.16 L1094.09 462 L1102.62 472.72 L1111.16 470.18 L1119.69 467.86 L1128.22 461.68 L1136.75 465.76 L1145.28 464.31 L1153.81 473.05 L1162.34 478.62 L1170.88 473.05 L1179.41 468.12 L1187.94 465.68 L1196.47 471.92 L1205 472.72" fill="none" stroke="#000" stroke-opacity="0.16" stroke-width="0.7"/>
<path d="M727.25 463.26 L735.78 459.77 L744.31 457.72 L752.84 456.16 L761.38 453.22 L769.91 445.48 L778.44 431.72 L786.97 408.38 L795.5 379.57 L804.03 366.29 L812.56 377.09 L821.09 375.63 L829.62 390.39 L838.16 403.15 L846.69 418.99 L855.22 434.73 L863.75 446.37 L872.28 450.52 L880.81 449.5 L889.34 446.2 L897.88 426.4 L906.41 396.67 L914.94 375.49 L923.47 380.31 L932 381.5 L940.53 374.99 L949.06 355.15 L957.59 347.12 L966.12 349.95 L974.66 379.6 L983.19 409.17 L991.72 426.05 L1000.25 433.48 L1008.78 447.53 L1017.31 456.94 L1025.84 461.72 L1034.38 460.41 L1042.91 461.39 L1051.44 457.16 L1059.97 464.04 L1068.5 461.94 L1077.03 460.88 L1085.56 461.67 L1094.09 460.63 L1102.62 460.65 L1111.16 453.45 L1119.69 457.11 L1128.22 459.62 L1136.75 469.87 L1145.28 460.67 L1153.81 459.38 L1162.34 455.19 L1170.88 452.02 L1179.41 451.47 L1187.94 457.83 L1196.47 466.44 L1205 468.69" fill="none" stroke="#000" stroke-opacity="0.16" stroke-width="0.7"/>
<path d="M727.25 463.26 L735.78 459.74 L744.31 459.39 L752.84 456.56 L761.38 453.86 L769.91 444.49 L778.44 431.22 L786.97 409.91 L795.5 384.27 L804.03 372.22 L812.56 376.78 L821.09 369.77 L829.62 376.46 L838.16 400.13 L846.69 417.83 L855.22 436.26 L863.75 442.69 L872.28 450.57 L880.81 449.97 L889.34 446.52 L897.88 430.78 L906.41 408.19 L914.94 396.39 L923.47 389.06 L932 387.2 L940.53 376.4 L949.06 358.48 L957.59 342.02 L966.12 342.04 L974.66 362.35 L983.19 404.66 L991.72 424.46 L1000.25 437.1 L1008.78 444.06 L1017.31 454.46 L1025.84 451.63 L1034.38 454.14 L1042.91 459.26 L1051.44 461.86 L1059.97 467.64 L1068.5 465.76 L1077.03 465.93 L1085.56 460.83 L1094.09 464.17 L1102.62 463.09 L1111.16 464.91 L1119.69 463.32 L1128.22 471.01 L1136.75 473.87 L1145.28 472.71 L1153.81 471.87 L1162.34 476.7 L1170.88 466.2 L1179.41 462.69 L1187.94 460.34 L1196.47 466.6 L1205 466.45" fill="none" stroke="#000" stroke-opacity="0.16" stroke-width="0.7"/>
<path d="M727.25 463.6 L735.78 460.22 L744.31 458.73 L752.84 456.23 L761.38 453.14 L769.91 444.42 L778.44 428.34 L786.97 409.2 L795.5 384.76 L804.03 378.17 L812.56 382.51 L821.09 379.86 L829.62 389.16 L838.16 401.14 L846.69 419.31 L855.22 435.12 L863.75 447.57 L872.28 452.57 L880.81 450.05 L889.34 445.98 L897.88 427.14 L906.41 403.15 L914.94 380.14 L923.47 380.34 L932 384.5 L940.53 383.35 L949.06 368.4 L957.59 356.8 L966.12 353.7 L974.66 376.84 L983.19 410.22 L991.72 419.46 L1000.25 427.49 L1008.78 434.77 L1017.31 444.66 L1025.84 449.85 L1034.38 455.52 L1042.91 459.13 L1051.44 455.1 L1059.97 451.81 L1068.5 450.67 L1077.03 452.17 L1085.56 453.21 L1094.09 456.09 L1102.62 464.22 L1111.16 463.45 L1119.69 457.19 L1128.22 455.49 L1136.75 468.25 L1145.28 474.21 L1153.81 471.24 L1162.34 471.23 L1170.88 471.02 L1179.41 478.12 L1187.94 473 L1196.47 459.03 L1205 441.6" fill="none" stroke="#000" stroke-opacity="0.16" stroke-width="0.7"/>
<path d="M727.25 462.6 L735.78 458.96 L744.31 459.11 L752.84 456 L761.38 454.36 L769.91 444.92 L778.44 431.82 L786.97 408.96 L795.5 385.67 L804.03 376.13 L812.56 378.23 L821.09 374.19 L829.62 381.27 L838.16 401.43 L846.69 413.71 L855.22 431.26 L863.75 441.91 L872.28 447.93 L880.81 448.31 L889.34 443.21 L897.88 421.4 L906.41 389.47 L914.94 370.04 L923.47 369.44 L932 375.65 L940.53 371.73 L949.06 357.32 L957.59 353.14 L966.12 363.24 L974.66 392.52 L983.19 416.66 L991.72 423.1 L1000.25 435.06 L1008.78 444.26 L1017.31 452.09 L1025.84 455.76 L1034.38 457.41 L1042.91 454.28 L1051.44 450.97 L1059.97 456.66 L1068.5 464.67 L1077.03 464.26 L1085.56 462.77 L1094.09 461.38 L1102.62 471.51 L1111.16 465.33 L1119.69 471.29 L1128.22 467.81 L1136.75 477.14 L1145.28 467.61 L1153.81 463.66 L1162.34 452.62 L1170.88 462.25 L1179.41 469.15 L1187.94 463.57 L1196.47 454.12 L1205 441.95" fill="none" stroke="#000" stroke-opacity="0.16" stroke-width="0.7"/>
<path d="M727.25 461.68 L735.78 457.44 L744.31 456.3 L752.84 454.76 L761.38 452.95 L769.91 444.92 L778.44 431.75 L786.97 410.39 L795.5 385.27 L804.03 373.25 L812.56 377.77 L821.09 369.88 L829.62 376.71 L838.16 394.35 L846.69 419.63 L855.22 436.36 L863.75 447.37 L872.28 449.65 L880.81 450.4 L889.34 444.44 L897.88 427.06 L906.41 396.83 L914.94 382.9 L923.47 374.09 L932 379.96 L940.53 371.49 L949.06 368.44 L957.59 359.53 L966.12 372.3 L974.66 401.26 L983.19 420.77 L991.72 427.62 L1000.25 434.81 L1008.78 447.08 L1017.31 456.23 L1025.84 462.99 L1034.38 462.9 L1042.91 464.85 L1051.44 454.18 L1059.97 449.56 L1068.5 452.57 L1077.03 455.79 L1085.56 458.45 L1094.09 461.77 L1102.62 470.01 L1111.16 468.8 L1119.69 463.82 L1128.22 462.69 L1136.75 470.96 L1145.28 466.41 L1153.81 460.07 L1162.34 463.26 L1170.88 467.24 L1179.41 470.28 L1187.94 464.12 L1196.47 463.43 L1205 463.67" fill="none" stroke="#000" stroke-opacity="0.16" stroke-width="0.7"/>
<path d="M727.25 462.58 L735.78 459.08 L744.31 458.04 L752.84 455.42 L761.38 453.76 L769.91 445.93 L778.44 434.68 L786.97 410.14 L795.5 387.42 L804.03 374.04 L812.56 381.36 L821.09 376.49 L829.62 387.16 L838.16 408.27 L846.69 424.36 L855.22 437.8 L863.75 446.77 L872.28 450.2 L880.81 449.54 L889.34 443.33 L897.88 423.17 L906.41 394.5 L914.94 375.15 L923.47 375.16 L932 381.13 L940.53 379.79 L949.06 363.22 L957.59 348.59 L966.12 340.74 L974.66 358.05 L983.19 398.53 L991.72 425.01 L1000.25 433.47 L1008.78 447.03 L1017.31 451.75 L1025.84 461.92 L1034.38 464.77 L1042.91 473.73 L1051.44 471.76 L1059.97 461.49 L1068.5 451.5 L1077.03 450.51 L1085.56 456.67 L1094.09 464.7 L1102.62 474.41 L1111.16 469.2 L1119.69 460.04 L1128.22 459.28 L1136.75 464.8 L1145.28 467.42 L1153.81 462.27 L1162.34 465.56 L1170.88 460.25 L1179.41 465.01 L1187.94 459.48 L1196.47 456.64 L1205 443.72" fill="none" stroke="#000" stroke-opacity="0.16" stroke-width="0.7"/>
<path d="M727.25 461.9 L735.78 457.73 L744.31 457.48 L752.84 455.15 L761.38 453.05 L769.91 443.78 L778.44 431.46 L786.97 409.37 L795.5 386.69 L804.03 376.42 L812.56 383.66 L821.09 380.57 L829.62 391.62 L838.16 406.52 L846.69 421.01 L855.22 434.38 L863.75 444.17 L872.28 450.31 L880.81 449.78 L889.34 445.58 L897.88 421.55 L906.41 381.93 L914.94 364.55 L923.47 362.54 L932 375.21 L940.53 377 L949.06 370.13 L957.59 362.84 L966.12 357.69 L974.66 368.14 L983.19 404.52 L991.72 424.41 L1000.25 436.7 L1008.78 442.97 L1017.31 453.21 L1025.84 461.91 L1034.38 463 L1042.91 459.88 L1051.44 454 L1059.97 457.61 L1068.5 461.52 L1077.03 457.95 L1085.56 456.18 L1094.09 459.54 L1102.62 463.8 L1111.16 463.1 L1119.69 460.68 L1128.22 466.86 L1136.75 473.51 L1145.28 468.86 L1153.81 457.57 L1162.34 457.82 L1170.88 452.62 L1179.41 456.63 L1187.94 460.87 L1196.47 461.55 L1205 459.19" fill="none" stroke="#000" stroke-opacity="0.16" stroke-width="0.7"/>
<path d="M727.25 462.55 L735.78 458.4 L744.31 457.77 L752.84 456.41 L761.38 453.75 L769.91 443.25 L778.44 425.7 L786.97 404.37 L795.5 380.82 L804.03 369.79 L812.56 378.72 L821.09 371.3 L829.62 390.99 L838.16 407.4 L846.69 422.23 L855.22 434.34 L863.75 446.25 L872.28 451.09 L880.81 449.33 L889.34 445.23 L897.88 428.89 L906.41 397.23 L914.94 379.59 L923.47 370.33 L932 377.76 L940.53 370.32 L949.06 362.02 L957.59 359.82 L966.12 354.27 L974.66 378.34 L983.19 399.25 L991.72 416.43 L1000.25 430.04 L1008.78 446.34 L1017.31 457.75 L1025.84 454.21 L1034.38 451 L1042.91 454.78 L1051.44 452.1 L1059.97 460.78 L1068.5 452.06 L1077.03 460.11 L1085.56 458.07 L1094.09 463.75 L1102.62 469.53 L1111.16 464.02 L1119.69 467.73 L1128.22 466.22 L1136.75 476.87 L1145.28 477.51 L1153.81 479.83 L1162.34 479.44 L1170.88 469.17 L1179.41 452.71 L1187.94 440.63 L1196.47 446.41 L1205 454.86" fill="none" stroke="#000" stroke-opacity="0.16" stroke-width="0.7"/>
<path d="M727.25 463.06 L735.78 459.13 L744.31 457.29 L752.84 456.1 L761.38 453.84 L769.91 445.94 L778.44 430.49 L786.97 409.42 L795.5 386.41 L804.03 376.78 L812.56 381.8 L821.09 374.77 L829.62 389.13 L838.16 405.61 L846.69 424.26 L855.22 435.26 L863.75 444.77 L872.28 449.97 L880.81 448.2 L889.34 444.64 L897.88 429.99 L906.41 416.54 L914.94 393.78 L923.47 383.81 L932 386.08 L940.53 376.76 L949.06 363.36 L957.59 347.47 L966.12 354.69 L974.66 370.02 L983.19 395.51 L991.72 417.83 L1000.25 429.8 L1008.78 447.36 L1017.31 453.79 L1025.84 467.11 L1034.38 470.84 L1042.91 471.83 L1051.44 465.95 L1059.97 463.03 L1068.5 458.49 L1077.03 451.79 L1085.56 455.39 L1094.09 460.5 L1102.62 473.72 L1111.16 469.46 L1119.69 463.62 L1128.22 456.87 L1136.75 457.85 L1145.28 465.39 L1153.81 473.83 L1162.34 473.78 L1170.88 462.93 L1179.41 463.78 L1187.94 466.35 L1196.47 460.81 L1205 444.95" fill="none" stroke="#000" stroke-opacity="0.16" stroke-width="0.7"/>
<path d="M727.25 462.61 L735.78 458.73 L744.31 456.89 L752.84 455.61 L761.38 452.6 L769.91 442.64 L778.44 426.96 L786.97 406.85 L795.5 382.76 L804.03 370.29 L812.56 379.66 L821.09 376.63 L829.62 386.07 L838.16 399.55 L846.69 423.18 L855.22 440.98 L863.75 450.22 L872.28 452.9 L880.81 450.25 L889.34 449.87 L897.88 429.87 L906.41 398.84 L914.94 371.99 L923.47 376.22 L932 386.32 L940.53 385.22 L949.06 363.59 L957.59 355.21 L966.12 359.94 L974.66 386.15 L983.19 403.39 L991.72 409.46 L1000.25 424.07 L1008.78 434.58 L1017.31 448.1 L1025.84 458.2 L1034.38 464.34 L1042.91 465.07 L1051.44 463.74 L1059.97 468.68 L1068.5 472.86 L1077.03 470.36 L1085.56 464.26 L1094.09 457.59 L1102.62 455.88 L1111.16 454.03 L1119.69 463.97 L1128.22 470.7 L1136.75 473.41 L1145.28 463.53 L1153.81 454.15 L1162.34 461.18 L1170.88 472.74 L1179.41 469.21 L1187.94 468.68 L1196.47 454.56 L1205 452.38" fill="none" stroke="#000" stroke-opacity="0.16" stroke-width="0.7"/>
<path d="M727.25 464.03 L735.78 460.2 L744.31 458.7 L752.84 457.07 L761.38 454.51 L769.91 445.38 L778.44 430.2 L786.97 407.53 L795.5 385.58 L804.03 376.69 L812.56 380.87 L821.09 374.36 L829.62 384.21 L838.16 403.18 L846.69 419.51 L855.22 433.65 L863.75 442.47 L872.28 447.93 L880.81 447 L889.34 442.04 L897.88 428.31 L906.41 403.84 L914.94 390.68 L923.47 382.2 L932 389.63 L940.53 384.04 L949.06 376.87 L957.59 368.74 L966.12 361.16 L974.66 362.32 L983.19 400.84 L991.72 421 L1000.25 439.52 L1008.78 449.51 L1017.31 467.9 L1025.84 469.15 L1034.38 465.73 L1042.91 461.9 L1051.44 462.34 L1059.97 458.45 L1068.5 459.57 L1077.03 451.62 L1085.56 454.97 L1094.09 457.8 L1102.62 470.47 L1111.16 475.97 L1119.69 476.9 L1128.22 473.03 L1136.75 472.09 L1145.28 466.36 L1153.81 464 L1162.34 458.71 L1170.88 455.1 L1179.41 451.51 L1187.94 448.24 L1196.47 448.74 L1205 446.08" fill="none" stroke="#000" stroke-opacity="0.16" stroke-width="0.7"/>
<path d="M727.25 461.92 L735.78 457.79 L744.31 457 L752.84 454.93 L761.38 453.68 L769.91 446.18 L778.44 434.24 L786.97 411.6 L795.5 387.68 L804.03 375.8 L812.56 380 L821.09 380.49 L829.62 396.11 L838.16 408.23 L846.69 422.21 L855.22 437.24 L863.75 451.57 L872.28 455.83 L880.81 452.63 L889.34 448.52 L897.88 423.73 L906.41 389.43 L914.94 377.53 L923.47 380.24 L932 389.64 L940.53 380.51 L949.06 369.9 L957.59 349.78 L966.12 352.75 L974.66 359.56 L983.19 401.49 L991.72 424.67 L1000.25 432.97 L1008.78 449.84 L1017.31 458.26 L1025.84 471.5 L1034.38 468.34 L1042.91 471.75 L1051.44 465.64 L1059.97 467.47 L1068.5 461.8 L1077.03 457.43 L1085.56 457.45 L1094.09 455.88 L1102.62 456.31 L1111.16 459.24 L1119.69 456.09 L1128.22 467.86 L1136.75 466.25 L1145.28 475.68 L1153.81 464.31 L1162.34 471.03 L1170.88 459.29 L1179.41 464.49 L1187.94 453.5 L1196.47 448.73 L1205 435.76" fill="none" stroke="#000" stroke-opacity="0.16" stroke-width="0.7"/>
<path d="M727.25 463.04 L735.78 460.26 L744.31 459.46 L752.84 457.44 L761.38 454.88 L769.91 445.81 L778.44 430.68 L786.97 405.74 L795.5 380.85 L804.03 369.16 L812.56 376.45 L821.09 370.9 L829.62 380.11 L838.16 400.26 L846.69 414.82 L855.22 433.12 L863.75 445.8 L872.28 451.39 L880.81 452.06 L889.34 446.22 L897.88 424.43 L906.41 381.93 L914.94 370.09 L923.47 370.48 L932 377.22 L940.53 375.6 L949.06 368.55 L957.59 358.19 L966.12 360.69 L974.66 376.18 L983.19 415.7 L991.72 420.62 L1000.25 437.1 L1008.78 447.39 L1017.31 460.54 L1025.84 457.41 L1034.38 454.73 L1042.91 450.99 L1051.44 456.79 L1059.97 467.63 L1068.5 467.45 L1077.03 456.74 L1085.56 450.06 L1094.09 457.35 L1102.62 461.36 L1111.16 465.09 L1119.69 454.11 L1128.22 460.12 L1136.75 463.45 L1145.28 472.53 L1153.81 478.46 L1162.34 480.55 L1170.88 477.27 L1179.41 469.83 L1187.94 467.1 L1196.47 462.73 L1205 461.31" fill="none" stroke="#000" stroke-opacity="0.16" stroke-width="0.7"/>
<path d="M727.25 461.51 L735.78 458.46 L744.31 458.18 L752.84 456.98 L761.38 454.18 L769.91 445.86 L778.44 430.59 L786.97 406.93 L795.5 377.89 L804.03 372.75 L812.56 380.81 L821.09 380.78 L829.62 391.48 L838.16 408.27 L846.69 424.43 L855.22 439.65 L863.75 449.88 L872.28 453.06 L880.81 450.42 L889.34 446.78 L897.88 425.29 L906.41 396.42 L914.94 382.12 L923.47 378.27 L932 380.27 L940.53 371.55 L949.06 359.82 L957.59 357.16 L966.12 362.48 L974.66 382.06 L983.19 406.35 L991.72 417.04 L1000.25 432.66 L1008.78 439.65 L1017.31 452.79 L1025.84 456.11 L1034.38 463.77 L1042.91 458.99 L1051.44 458.77 L1059.97 454.76 L1068.5 459.6 L1077.03 454.3 L1085.56 457.42 L1094.09 459.01 L1102.62 464.7 L1111.16 460.09 L1119.69 461.85 L1128.22 460.9 L1136.75 468.88 L1145.28 461.03 L1153.81 461.41 L1162.34 465.19 L1170.88 461.01 L1179.41 455.75 L1187.94 440.18 L1196.47 441.21 L1205 439.38" fill="none" stroke="#000" stroke-opacity="0.16" stroke-width="0.7"/>
<line x1="727.25" y1="421.25" x2="1205" y2="421.25" class="grid" stroke-dasharray="1.9 4.03" stroke-dashoffset="1.2"/>
<line x1="727.25" y1="357.5" x2="1205" y2="357.5" class="grid" stroke-dasharray="1.9 4.03" stroke-dashoffset="1.2"/>
<line x1="727.25" y1="293.75" x2="1205" y2="293.75" class="grid" stroke-dasharray="1.9 4.03" stroke-dashoffset="1.2"/>
<line x1="727.25" y1="230" x2="1205" y2="230" class="grid" stroke-dasharray="1.9 4.03" stroke-dashoffset="1.2"/>
<line x1="795.5" y1="166.25" x2="795.5" y2="485" class="grid" stroke-dasharray="1.9 4.03" stroke-dashoffset="2.83"/>
<line x1="863.75" y1="166.25" x2="863.75" y2="485" class="grid" stroke-dasharray="1.9 4.03" stroke-dashoffset="2.83"/>
<line x1="932" y1="166.25" x2="932" y2="485" class="grid" stroke-dasharray="1.9 4.03" stroke-dashoffset="2.83"/>
<line x1="1000.25" y1="166.25" x2="1000.25" y2="485" class="grid" stroke-dasharray="1.9 4.03" stroke-dashoffset="2.83"/>
<line x1="1068.5" y1="166.25" x2="1068.5" y2="485" class="grid" stroke-dasharray="1.9 4.03" stroke-dashoffset="2.83"/>
<line x1="1136.75" y1="166.25" x2="1136.75" y2="485" class="grid" stroke-dasharray="1.9 4.03" stroke-dashoffset="2.83"/>
<path d="M727.25 459.75 L735.78 455 L744.31 454.4 L752.84 452.75 L761.38 451 L769.91 440 L778.44 420 L786.97 401.2 L795.5 365.4 L804.03 359 L812.56 367.5 L821.09 351.6 L829.62 359.4 L838.16 380.6 L846.69 400.6 L855.22 423.75 L863.75 436.25 L872.28 442.3 L880.81 444.2 L889.34 432.5 L897.88 404 L906.41 364.4 L914.94 350.4 L923.47 347.5 L932 359.4 L940.53 351.9 L949.06 340.6 L957.59 312.1 L966.12 323.75 L974.66 327.5 L983.19 372.5 L991.72 396.25 L1000.25 417.8 L1008.78 424.4 L1017.31 433.1 L1025.84 446.5 L1034.38 435.9 L1042.91 438.1 L1051.44 440.25 L1059.97 436.5 L1068.5 432.9 L1077.03 428.75 L1085.56 435 L1094.09 439.4 L1102.62 444.4 L1111.16 448.75 L1119.69 435.6 L1128.22 436.6 L1136.75 446.25 L1145.28 430.3 L1153.81 414.4 L1162.34 399.75 L1170.88 404.6 L1179.41 396.25 L1187.94 406.9 L1196.47 412.25 L1205 414.75" fill="none" stroke="#ff2626" stroke-width="1.3" stroke-linejoin="round"/>
<path d="M727.25 465.6 L735.78 462.25 L744.31 461.6 L752.84 459.75 L761.38 456.9 L769.91 449.4 L778.44 438.75 L786.97 417 L795.5 400.3 L804.03 390.4 L812.56 391.9 L821.09 396.6 L829.62 411 L838.16 430 L846.69 437.5 L855.22 449.7 L863.75 458.5 L872.28 458.1 L880.81 457.6 L889.34 459 L897.88 455 L906.41 435 L914.94 412.5 L923.47 404.4 L932 403.1 L940.53 400.4 L949.06 388.1 L957.59 381.5 L966.12 387 L974.66 435 L983.19 460 L991.72 452.5 L1000.25 456.6 L1008.78 465.9 L1017.31 472.1 L1025.84 473.75 L1034.38 475.4 L1042.91 476 L1051.44 477.1 L1059.97 476.9 L1068.5 475 L1077.03 472.9 L1085.56 468.5 L1094.09 470.6 L1102.62 478.1 L1111.16 477.9 L1119.69 478.1 L1128.22 478.75 L1136.75 481.6 L1145.28 484.5 L1153.81 483.1 L1162.34 482.5 L1170.88 482.1 L1179.41 481.9 L1187.94 480 L1196.47 478.1 L1205 479" fill="none" stroke="#2626ff" stroke-width="1.3" stroke-linejoin="round"/>
<path d="M727.25 463.3 L735.78 459.6 L744.31 458.3 L752.84 456.2 L761.38 453.7 L769.91 444.6 L778.44 430.2 L786.97 406.5 L795.5 384 L804.03 373.1 L812.56 380.25 L821.09 375.6 L829.62 386.25 L838.16 403.75 L846.69 424 L855.22 438.5 L863.75 447.5 L872.28 453.5 L880.81 450 L889.34 448.1 L897.88 428.75 L906.41 400.6 L914.94 379.4 L923.47 376.25 L932 379 L940.53 376 L949.06 368 L957.59 361.9 L966.12 358.75 L974.66 373.75 L983.19 403.75 L991.72 422.5 L1000.25 436 L1008.78 446 L1017.31 453.1 L1025.84 458.1 L1034.38 460.6 L1042.91 461.25 L1051.44 459.4 L1059.97 458.75 L1068.5 457.9 L1077.03 457.5 L1085.56 457.9 L1094.09 460.6 L1102.62 464.1 L1111.16 464.4 L1119.69 467 L1128.22 469 L1136.75 470 L1145.28 469.8 L1153.81 468.1 L1162.34 466.25 L1170.88 463.5 L1179.41 460 L1187.94 457.5 L1196.47 455.3 L1205 451.7" fill="none" stroke="#00f000" stroke-width="1.75" stroke-linejoin="round" mask="url(#mM23)"/>
<path d="M727.25 463.1 L735.78 459.4 L744.31 458.1 L752.84 456 L761.38 453.5 L769.91 444.4 L778.44 430 L786.97 406.25 L795.5 383.75 L804.03 365.6 L812.56 386 L821.09 381.9 L829.62 388.1 L838.16 404.4 L846.69 424.4 L855.22 438.75 L863.75 447.2 L872.28 454 L880.81 451.6 L889.34 453.5 L897.88 429.4 L906.41 400.6 L914.94 375 L923.47 375 L932 377.5 L940.53 383.1 L949.06 373.1 L957.59 368.1 L966.12 360 L974.66 365.6 L983.19 401.9 L991.72 415 L1000.25 426.2 L1008.78 447.5 L1017.31 461.25 L1025.84 467.5 L1034.38 469.75 L1042.91 467.9 L1051.44 463.75 L1059.97 452.9 L1068.5 454.4 L1077.03 457.9 L1085.56 460.6 L1094.09 464.75 L1102.62 469 L1111.16 469.4 L1119.69 471.5 L1128.22 475 L1136.75 479.7 L1145.28 477.8 L1153.81 474 L1162.34 471.9 L1170.88 468.1 L1179.41 460 L1187.94 455 L1196.47 453 L1205 448.5" fill="none" stroke="#000" stroke-width="1.75" stroke-linejoin="round" mask="url(#mC23)"/>
<text transform="translate(796.9 386.2) rotate(-65)" x="-10.8" y="3.4" font-size="9.4" fill="#111" stroke="#111" stroke-width="0.25" textLength="21.6" lengthAdjust="spacingAndGlyphs">Mean</text>
<text transform="translate(845.4 422.3) rotate(0)" x="-3.15" y="3.4" font-size="9.4" fill="#111" stroke="#111" stroke-width="0.25" textLength="6.3" lengthAdjust="spacingAndGlyphs">C</text>
<text transform="translate(867.7 447) rotate(30)" x="-10.8" y="3.4" font-size="9.4" fill="#111" stroke="#111" stroke-width="0.25" textLength="21.6" lengthAdjust="spacingAndGlyphs">Mean</text>
<text transform="translate(905.6 405) rotate(0)" x="-3.15" y="3.4" font-size="9.4" fill="#111" stroke="#111" stroke-width="0.25" textLength="6.3" lengthAdjust="spacingAndGlyphs">C</text>
<text transform="translate(941.2 374.4) rotate(-25)" x="-10.8" y="3.4" font-size="9.4" fill="#111" stroke="#111" stroke-width="0.25" textLength="21.6" lengthAdjust="spacingAndGlyphs">Mean</text>
<text transform="translate(975.7 371.2) rotate(45)" x="-3.15" y="3.4" font-size="9.4" fill="#111" stroke="#111" stroke-width="0.25" textLength="6.3" lengthAdjust="spacingAndGlyphs">C</text>
<text transform="translate(1005 442.5) rotate(52)" x="-10.8" y="3.4" font-size="9.4" fill="#111" stroke="#111" stroke-width="0.25" textLength="21.6" lengthAdjust="spacingAndGlyphs">Mean</text>
<text transform="translate(1025.3 466.3) rotate(0)" x="-3.15" y="3.4" font-size="9.4" fill="#111" stroke="#111" stroke-width="0.25" textLength="6.3" lengthAdjust="spacingAndGlyphs">C</text>
<text transform="translate(1125 468.1) rotate(15)" x="-10.8" y="3.4" font-size="9.4" fill="#111" stroke="#111" stroke-width="0.25" textLength="21.6" lengthAdjust="spacingAndGlyphs">Mean</text>
<text transform="translate(1124 474.3) rotate(10)" x="-3.15" y="3.4" font-size="9.4" fill="#111" stroke="#111" stroke-width="0.25" textLength="6.3" lengthAdjust="spacingAndGlyphs">C</text></g>
<g id="frameL"><path d="M102.6 166.6 H608.8 M113.1 166.6 V500.4 M102.6 490.4 H608.8  M598.5 166.6 V500.4" stroke="#000" stroke-width="1.3" fill="none"/>
<line x1="102.6" y1="490.4" x2="113.1" y2="490.4" stroke="#000" stroke-width="1.2"/>
<line x1="598.5" y1="490.4" x2="608.8" y2="490.4" stroke="#000" stroke-width="1.2"/>
<text x="93.8" y="495.08" text-anchor="end" font-size="13">0</text>
<line x1="102.6" y1="425.64" x2="113.1" y2="425.64" stroke="#000" stroke-width="1.2"/>
<line x1="598.5" y1="425.64" x2="608.8" y2="425.64" stroke="#000" stroke-width="1.2"/>
<text x="93.8" y="430.32" text-anchor="end" font-size="13">250</text>
<line x1="102.6" y1="360.88" x2="113.1" y2="360.88" stroke="#000" stroke-width="1.2"/>
<line x1="598.5" y1="360.88" x2="608.8" y2="360.88" stroke="#000" stroke-width="1.2"/>
<text x="93.8" y="365.56" text-anchor="end" font-size="13">500</text>
<line x1="102.6" y1="296.12" x2="113.1" y2="296.12" stroke="#000" stroke-width="1.2"/>
<line x1="598.5" y1="296.12" x2="608.8" y2="296.12" stroke="#000" stroke-width="1.2"/>
<text x="93.8" y="300.8" text-anchor="end" font-size="13">750</text>
<line x1="102.6" y1="231.36" x2="113.1" y2="231.36" stroke="#000" stroke-width="1.2"/>
<line x1="598.5" y1="231.36" x2="608.8" y2="231.36" stroke="#000" stroke-width="1.2"/>
<text x="93.8" y="236.04" text-anchor="end" font-size="13">1000</text>
<line x1="102.6" y1="166.6" x2="113.1" y2="166.6" stroke="#000" stroke-width="1.2"/>
<line x1="598.5" y1="166.6" x2="608.8" y2="166.6" stroke="#000" stroke-width="1.2"/>
<text x="93.8" y="171.28" text-anchor="end" font-size="13">1250</text>
<line x1="113.1" y1="490.4" x2="113.1" y2="500.4" stroke="#000" stroke-width="1.2"/>
<text x="113.1" y="520" text-anchor="middle" font-size="13">06Z/19</text>
<line x1="182.44" y1="490.4" x2="182.44" y2="500.4" stroke="#000" stroke-width="1.2"/>
<text x="182.44" y="520" text-anchor="middle" font-size="13">06Z/20</text>
<line x1="251.79" y1="490.4" x2="251.79" y2="500.4" stroke="#000" stroke-width="1.2"/>
<text x="251.79" y="520" text-anchor="middle" font-size="13">06Z/21</text>
<line x1="321.13" y1="490.4" x2="321.13" y2="500.4" stroke="#000" stroke-width="1.2"/>
<text x="321.13" y="520" text-anchor="middle" font-size="13">06Z/22</text>
<line x1="390.47" y1="490.4" x2="390.47" y2="500.4" stroke="#000" stroke-width="1.2"/>
<text x="390.47" y="520" text-anchor="middle" font-size="13">06Z/23</text>
<line x1="459.81" y1="490.4" x2="459.81" y2="500.4" stroke="#000" stroke-width="1.2"/>
<text x="459.81" y="520" text-anchor="middle" font-size="13">06Z/24</text>
<line x1="529.16" y1="490.4" x2="529.16" y2="500.4" stroke="#000" stroke-width="1.2"/>
<text x="529.16" y="520" text-anchor="middle" font-size="13">06Z/25</text>
<line x1="598.5" y1="490.4" x2="598.5" y2="500.4" stroke="#000" stroke-width="1.2"/>
<text x="598.5" y="520" text-anchor="middle" font-size="13">06Z/26</text>
<text x="112.6" y="158.3" font-size="13.47">GFS Ensemble Init: 06Z Mon 11/19/18</text>
<text x="598.3" y="158.3" text-anchor="end" font-size="13.47">LatLon: 39N;123.5W</text>
<text x="355.8" y="539.4" text-anchor="middle" font-size="13.47">Forecast time from 06Z Mon 11/19/18</text>
<text transform="translate(608.2 479.4) rotate(-90)" font-size="11.6" textLength="48.8" lengthAdjust="spacingAndGlyphs">Not an AR</text>
<text transform="translate(608.2 410.3) rotate(-90)" font-size="11.6" textLength="45.2" lengthAdjust="spacingAndGlyphs">Weak AR</text>
<text transform="translate(608.2 346.9) rotate(-90)" font-size="11.6" textLength="44.7" lengthAdjust="spacingAndGlyphs">Moderate</text>
<text transform="translate(608.2 278.5) rotate(-90)" font-size="11.6" textLength="31" lengthAdjust="spacingAndGlyphs">Strong</text>
<text transform="translate(608.2 217.3) rotate(-90)" font-size="11.6" textLength="39.5" lengthAdjust="spacingAndGlyphs">Extreme</text></g>
<g id="frameR"><path d="M716.75 166.25 H1215.3 M727.25 166.25 V495 M716.75 485 H1215.3  M1205 166.25 V495" stroke="#000" stroke-width="1.3" fill="none"/>
<line x1="716.75" y1="485" x2="727.25" y2="485" stroke="#000" stroke-width="1.2"/>
<line x1="1205" y1="485" x2="1215.3" y2="485" stroke="#000" stroke-width="1.2"/>
<text x="707.95" y="489.61" text-anchor="end" font-size="12.8">0</text>
<line x1="716.75" y1="421.25" x2="727.25" y2="421.25" stroke="#000" stroke-width="1.2"/>
<line x1="1205" y1="421.25" x2="1215.3" y2="421.25" stroke="#000" stroke-width="1.2"/>
<text x="707.95" y="425.86" text-anchor="end" font-size="12.8">250</text>
<line x1="716.75" y1="357.5" x2="727.25" y2="357.5" stroke="#000" stroke-width="1.2"/>
<line x1="1205" y1="357.5" x2="1215.3" y2="357.5" stroke="#000" stroke-width="1.2"/>
<text x="707.95" y="362.11" text-anchor="end" font-size="12.8">500</text>
<line x1="716.75" y1="293.75" x2="727.25" y2="293.75" stroke="#000" stroke-width="1.2"/>
<line x1="1205" y1="293.75" x2="1215.3" y2="293.75" stroke="#000" stroke-width="1.2"/>
<text x="707.95" y="298.36" text-anchor="end" font-size="12.8">750</text>
<line x1="716.75" y1="230" x2="727.25" y2="230" stroke="#000" stroke-width="1.2"/>
<line x1="1205" y1="230" x2="1215.3" y2="230" stroke="#000" stroke-width="1.2"/>
<text x="707.95" y="234.61" text-anchor="end" font-size="12.8">1000</text>
<line x1="716.75" y1="166.25" x2="727.25" y2="166.25" stroke="#000" stroke-width="1.2"/>
<line x1="1205" y1="166.25" x2="1215.3" y2="166.25" stroke="#000" stroke-width="1.2"/>
<text x="707.95" y="170.86" text-anchor="end" font-size="12.8">1250</text>
<line x1="727.25" y1="485" x2="727.25" y2="495" stroke="#000" stroke-width="1.2"/>
<text x="727.25" y="514.13" text-anchor="middle" font-size="12.8">06Z/20</text>
<line x1="795.5" y1="485" x2="795.5" y2="495" stroke="#000" stroke-width="1.2"/>
<text x="795.5" y="514.13" text-anchor="middle" font-size="12.8">06Z/21</text>
<line x1="863.75" y1="485" x2="863.75" y2="495" stroke="#000" stroke-width="1.2"/>
<text x="863.75" y="514.13" text-anchor="middle" font-size="12.8">06Z/22</text>
<line x1="932" y1="485" x2="932" y2="495" stroke="#000" stroke-width="1.2"/>
<text x="932" y="514.13" text-anchor="middle" font-size="12.8">06Z/23</text>
<line x1="1000.25" y1="485" x2="1000.25" y2="495" stroke="#000" stroke-width="1.2"/>
<text x="1000.25" y="514.13" text-anchor="middle" font-size="12.8">06Z/24</text>
<line x1="1068.5" y1="485" x2="1068.5" y2="495" stroke="#000" stroke-width="1.2"/>
<text x="1068.5" y="514.13" text-anchor="middle" font-size="12.8">06Z/25</text>
<line x1="1136.75" y1="485" x2="1136.75" y2="495" stroke="#000" stroke-width="1.2"/>
<text x="1136.75" y="514.13" text-anchor="middle" font-size="12.8">06Z/26</text>
<line x1="1205" y1="485" x2="1205" y2="495" stroke="#000" stroke-width="1.2"/>
<text x="1205" y="514.13" text-anchor="middle" font-size="12.8">06Z/27</text>
<text x="726.75" y="157.95" font-size="13.26">GFS Ensemble Init: 06Z Tue 11/20/18</text>
<text x="1204.8" y="157.95" text-anchor="end" font-size="13.26">LatLon: 39N;123.5W</text>
<text x="966.12" y="533.23" text-anchor="middle" font-size="13.26">Forecast time from 06Z Tue 11/20/18</text>
<text transform="translate(1214.55 474.18) rotate(-90)" font-size="11.42" textLength="48.04" lengthAdjust="spacingAndGlyphs">Not an AR</text>
<text transform="translate(1214.55 406.17) rotate(-90)" font-size="11.42" textLength="44.5" lengthAdjust="spacingAndGlyphs">Weak AR</text>
<text transform="translate(1214.55 343.77) rotate(-90)" font-size="11.42" textLength="44" lengthAdjust="spacingAndGlyphs">Moderate</text>
<text transform="translate(1214.55 276.45) rotate(-90)" font-size="11.42" textLength="30.52" lengthAdjust="spacingAndGlyphs">Strong</text>
<text transform="translate(1214.55 216.21) rotate(-90)" font-size="11.42" textLength="38.89" lengthAdjust="spacingAndGlyphs">Extreme</text></g>
<rect x="615" y="500" width="30" height="30" fill="#fff"/>
<text class="axt" transform="translate(51 328.2) rotate(-90)" text-anchor="middle" font-size="18.5" textLength="182.5" lengthAdjust="spacingAndGlyphs">IVT Magnitude [kg/m/s]</text>
<text class="axt" transform="translate(1240.6 327.4) rotate(-90)" text-anchor="middle" font-size="14.3" textLength="258" lengthAdjust="spacingAndGlyphs">Categorical AR Strength by Ralph/CW3E</text>
<g>
<rect x="131" y="177" width="147" height="125.7" fill="#87ceeb"/>
<path d="M142.2 177 L150 182.2 L149.3 188.9 L147.8 195.6 L146 201.1 L149.3 206.7 L152.8 212.5 L153.7 216.5 L155.2 220.8 L158.5 224.8 L162.4 228 L165.6 233.3 L168.9 237.8 L170.7 245.6 L175.6 251.1 L182.2 257.8 L188.9 263.3 L193.3 271.5 L195 276.7 L206.7 277.8 L212.2 280.6 L220 282.8 L228.9 287.2 L233.9 291.1 L235.6 297.8 L237.2 301.1 L238.5 302.8 L278 302.7 L278 177 Z" fill="#cccccc"/>
<path d="M142.2 177 L150 182.2 L149.3 188.9 L147.8 195.6 L146 201.1 L149.3 206.7 L152.8 212.5 L153.7 216.5 L155.2 220.8 L158.5 224.8 L162.4 228 L165.6 233.3 L168.9 237.8 L170.7 245.6 L175.6 251.1 L182.2 257.8 L188.9 263.3 L193.3 271.5 L195 276.7 L206.7 277.8 L212.2 280.6 L220 282.8 L228.9 287.2 L233.9 291.1 L235.6 297.8 L237.2 301.1 L238.5 302.8" fill="none" stroke="#000" stroke-width="1"/>
<path d="M150.7 182.2 H278 M238.4 177 V182.2 M201.1 182.2 V218.4 M201.5 219.6 L268.3 268.9 M276.1 182.2 V255 L275 257 L273 257.2 L272.6 256 L272.2 251.5 L272 256.5 L266.7 256.1 L267.8 259 L268.3 268.9 L272.2 274.4 L275 278.9 L271.7 282.2 L270 286.7 L267.8 291.1 L270 294.4 L269.4 297.8 L266.7 300.6 L264.4 302.8 M238.9 300.6 L269.4 297.8 M266.7 301 L272.2 302.8 M276.1 244.8 h1.2" fill="none" stroke="#000" stroke-width="1.05" stroke-linejoin="round"/>
<circle cx="200.6" cy="219" r="1.3" fill="#fff" stroke="#000" stroke-width="0.6"/>
<path d="M171.3 233 L172.5 235.5 L171.5 238 L174 238.5 L176.5 239.5" fill="none" stroke="#000" stroke-width="1"/><path d="M170.6 231.3 L172 233 L171.6 236 L173.5 238 L176.6 239.6 L175 240.2 L172.4 238.9 L170.7 236.5 L170 233 Z" fill="#87ceeb" stroke="#000" stroke-width="0.6"/>
<path d="M195.8 281.8 l3 .9 l2 -.7 l2.2 .9 l3.6 -1 M207.2 291.7 l.6 .3 M219.4 290 l2.8 1.3 M219.4 295 l2.4 2.2" fill="none" stroke="#000" stroke-width="1.5" stroke-linecap="round"/>
<clipPath id="mc"><rect x="131" y="177" width="147" height="125.7"/></clipPath><g clip-path="url(#mc)">
<circle cx="144.4" cy="176.4" r="2.8" fill="#000"/>
<circle cx="150.7" cy="182.2" r="2.8" fill="#000"/>
<circle cx="150.7" cy="188.4" r="2.8" fill="#000"/>
<circle cx="150.7" cy="194.7" r="2.8" fill="#000"/>
<circle cx="150.7" cy="201.1" r="2.8" fill="#000"/>
<circle cx="150.7" cy="207.3" r="2.8" fill="#000"/>
<circle cx="157.1" cy="213.3" r="2.8" fill="#000"/>
<circle cx="163.3" cy="226" r="2.8" fill="#000"/>
<circle cx="163.3" cy="232.2" r="2.8" fill="#000"/>
<circle cx="169.6" cy="238.4" r="2.8" fill="#000"/>
<circle cx="169.6" cy="244.7" r="2.8" fill="#000"/>
<circle cx="175.8" cy="251.1" r="2.8" fill="#000"/>
<circle cx="182.2" cy="257.1" r="2.8" fill="#000"/>
<circle cx="188.4" cy="263.3" r="2.8" fill="#000"/>
<circle cx="194.9" cy="269.7" r="2.8" fill="#000"/>
<circle cx="201.1" cy="275.9" r="2.8" fill="#000"/>
<circle cx="219.8" cy="282.2" r="2.8" fill="#000"/>
<circle cx="232.6" cy="288.3" r="2.8" fill="#000"/>
<circle cx="232.6" cy="295" r="2.8" fill="#000"/>
<circle cx="238.9" cy="300.8" r="2.8" fill="#000"/>
<circle cx="157.1" cy="220" r="2.5" fill="#ff0000"/></g></g>
<rect x="468" y="177" width="115" height="35" fill="#fff"/>
<g transform="translate(486.7 195) scale(0.31)">
<clipPath id="cla"><circle cx="0" cy="0" r="50"/></clipPath>
<g clip-path="url(#cla)">
<rect x="-50" y="-50" width="100" height="48.7" fill="#f6931e"/>
<rect x="-50" y="2.1" width="100" height="48" fill="#2c8cba"/>
<rect x="-50" y="2.1" width="100" height="3.6" fill="#1f7099"/>
<rect x="-50" y="9.53" width="100" height="3.6" fill="#1f7099"/>
<rect x="-50" y="16.96" width="100" height="3.6" fill="#1f7099"/>
<rect x="-50" y="24.39" width="100" height="3.6" fill="#1f7099"/>
<rect x="-50" y="31.82" width="100" height="3.6" fill="#1f7099"/>
<rect x="-50" y="39.25" width="100" height="3.6" fill="#1f7099"/>
<rect x="-50" y="46.68" width="100" height="3.6" fill="#1f7099"/>
</g>
<circle cx="0.5" cy="0.5" r="31.8" fill="#fff"/>
<path d="M0 -23.7 C 2.5 -14 15.6 -3 15.5 8.5 C 15.4 17 8.5 22.7 0 22.7 C -8.5 22.7 -15.5 17 -15.5 8.5 C -15.5 -3 -2.5 -14 0 -23.7 Z" fill="#2b8dbb"/>
<path d="M5.1 -13.1 L-10.5 5 L-0.45 9 L-5.45 22.1 L-6 24.5 L-3.2 24.5 L-2.4 22.5 L10.4 8 L0.4 3.8 L6.2 -10 L8.5 -11.5 L7.5 -14.8 Z" fill="#fff"/>
</g>
<g transform="translate(506 189.2) scale(0.31)">
<text x="-0.6" y="0.3" font-size="15.3" textLength="54.03" lengthAdjust="spacingAndGlyphs" fill="#1f6587" stroke="#1f6587" stroke-width="0.2">Center</text>
<text x="60.21" y="0.3" font-size="15.3" textLength="22.03" lengthAdjust="spacingAndGlyphs" fill="#1f6587" stroke="#1f6587" stroke-width="0.2">for</text>
<text x="88.7" y="0.3" font-size="15.3" textLength="68.03" lengthAdjust="spacingAndGlyphs" fill="#1f6587" stroke="#1f6587" stroke-width="0.2">Western</text>
<text x="161.2" y="0.3" font-size="15.3" textLength="69.14" lengthAdjust="spacingAndGlyphs" fill="#1f6587" stroke="#1f6587" stroke-width="0.2">Weather</text>
<text x="0.05" y="19.1" font-size="15.3" textLength="31.09" lengthAdjust="spacingAndGlyphs" fill="#1f6587" stroke="#1f6587" stroke-width="0.2">and</text>
<text x="37.3" y="19.1" font-size="15.3" textLength="48.34" lengthAdjust="spacingAndGlyphs" fill="#1f6587" stroke="#1f6587" stroke-width="0.2">Water</text>
<text x="90.22" y="19.1" font-size="15.3" textLength="78.03" lengthAdjust="spacingAndGlyphs" fill="#1f6587" stroke="#1f6587" stroke-width="0.2">Extremes</text>
<text x="1.61" y="38.8" font-size="9.9" font-weight="bold" textLength="41.64" lengthAdjust="spacingAndGlyphs" fill="#3b9bc6" fill-opacity="0.8">SCRIPPS</text>
<text x="46.39" y="38.8" font-size="9.9" font-weight="bold" textLength="63.84" lengthAdjust="spacingAndGlyphs" fill="#3b9bc6" fill-opacity="0.8">INSTITUTION</text>
<text x="113.61" y="38.8" font-size="9.9" font-weight="bold" textLength="13.59" lengthAdjust="spacingAndGlyphs" fill="#3b9bc6" fill-opacity="0.8">OF</text>
<text x="130.6" y="38.8" font-size="9.9" font-weight="bold" textLength="87.57" lengthAdjust="spacingAndGlyphs" fill="#3b9bc6" fill-opacity="0.8">OCEANOGRAPHY</text>
<text x="1.6" y="50.9" font-size="9.9" font-weight="bold" textLength="12.61" lengthAdjust="spacingAndGlyphs" fill="#3b9bc6" fill-opacity="0.8">AT</text>
<text x="16.83" y="50.9" font-size="9.9" font-weight="bold" textLength="13.78" lengthAdjust="spacingAndGlyphs" fill="#3b9bc6" fill-opacity="0.8">UC</text>
<text x="34.5" y="50.9" font-size="9.9" font-weight="bold" textLength="20.91" lengthAdjust="spacingAndGlyphs" fill="#3b9bc6" fill-opacity="0.8">SAN</text>
<text x="58" y="50.9" font-size="9.9" font-weight="bold" textLength="32.07" lengthAdjust="spacingAndGlyphs" fill="#3b9bc6" fill-opacity="0.8">DIEGO</text>
</g>
<rect x="1077" y="176.5" width="113" height="35.5" fill="#fff"/>
<g transform="translate(1095.3 194.3) scale(0.3)">
<clipPath id="clb"><circle cx="0" cy="0" r="50"/></clipPath>
<g clip-path="url(#clb)">
<rect x="-50" y="-50" width="100" height="48.7" fill="#f6931e"/>
<rect x="-50" y="2.1" width="100" height="48" fill="#2c8cba"/>
<rect x="-50" y="2.1" width="100" height="3.6" fill="#1f7099"/>
<rect x="-50" y="9.53" width="100" height="3.6" fill="#1f7099"/>
<rect x="-50" y="16.96" width="100" height="3.6" fill="#1f7099"/>
<rect x="-50" y="24.39" width="100" height="3.6" fill="#1f7099"/>
<rect x="-50" y="31.82" width="100" height="3.6" fill="#1f7099"/>
<rect x="-50" y="39.25" width="100" height="3.6" fill="#1f7099"/>
<rect x="-50" y="46.68" width="100" height="3.6" fill="#1f7099"/>
</g>
<circle cx="0.5" cy="0.5" r="31.8" fill="#fff"/>
<path d="M0 -23.7 C 2.5 -14 15.6 -3 15.5 8.5 C 15.4 17 8.5 22.7 0 22.7 C -8.5 22.7 -15.5 17 -15.5 8.5 C -15.5 -3 -2.5 -14 0 -23.7 Z" fill="#2b8dbb"/>
<path d="M5.1 -13.1 L-10.5 5 L-0.45 9 L-5.45 22.1 L-6 24.5 L-3.2 24.5 L-2.4 22.5 L10.4 8 L0.4 3.8 L6.2 -10 L8.5 -11.5 L7.5 -14.8 Z" fill="#fff"/>
</g>
<g transform="translate(1114.3 188.4) scale(0.31)">
<text x="-0.6" y="0.3" font-size="15.3" textLength="54.03" lengthAdjust="spacingAndGlyphs" fill="#1f6587" stroke="#1f6587" stroke-width="0.2">Center</text>
<text x="60.21" y="0.3" font-size="15.3" textLength="22.03" lengthAdjust="spacingAndGlyphs" fill="#1f6587" stroke="#1f6587" stroke-width="0.2">for</text>
<text x="88.7" y="0.3" font-size="15.3" textLength="68.03" lengthAdjust="spacingAndGlyphs" fill="#1f6587" stroke="#1f6587" stroke-width="0.2">Western</text>
<text x="161.2" y="0.3" font-size="15.3" textLength="69.14" lengthAdjust="spacingAndGlyphs" fill="#1f6587" stroke="#1f6587" stroke-width="0.2">Weather</text>
<text x="0.05" y="19.1" font-size="15.3" textLength="31.09" lengthAdjust="spacingAndGlyphs" fill="#1f6587" stroke="#1f6587" stroke-width="0.2">and</text>
<text x="37.3" y="19.1" font-size="15.3" textLength="48.34" lengthAdjust="spacingAndGlyphs" fill="#1f6587" stroke="#1f6587" stroke-width="0.2">Water</text>
<text x="90.22" y="19.1" font-size="15.3" textLength="78.03" lengthAdjust="spacingAndGlyphs" fill="#1f6587" stroke="#1f6587" stroke-width="0.2">Extremes</text>
<text x="1.61" y="38.8" font-size="9.9" font-weight="bold" textLength="41.64" lengthAdjust="spacingAndGlyphs" fill="#3b9bc6" fill-opacity="0.8">SCRIPPS</text>
<text x="46.39" y="38.8" font-size="9.9" font-weight="bold" textLength="63.84" lengthAdjust="spacingAndGlyphs" fill="#3b9bc6" fill-opacity="0.8">INSTITUTION</text>
<text x="113.61" y="38.8" font-size="9.9" font-weight="bold" textLength="13.59" lengthAdjust="spacingAndGlyphs" fill="#3b9bc6" fill-opacity="0.8">OF</text>
<text x="130.6" y="38.8" font-size="9.9" font-weight="bold" textLength="87.57" lengthAdjust="spacingAndGlyphs" fill="#3b9bc6" fill-opacity="0.8">OCEANOGRAPHY</text>
<text x="1.6" y="50.9" font-size="9.9" font-weight="bold" textLength="12.61" lengthAdjust="spacingAndGlyphs" fill="#3b9bc6" fill-opacity="0.8">AT</text>
<text x="16.83" y="50.9" font-size="9.9" font-weight="bold" textLength="13.78" lengthAdjust="spacingAndGlyphs" fill="#3b9bc6" fill-opacity="0.8">UC</text>
<text x="34.5" y="50.9" font-size="9.9" font-weight="bold" textLength="20.91" lengthAdjust="spacingAndGlyphs" fill="#3b9bc6" fill-opacity="0.8">SAN</text>
<text x="58" y="50.9" font-size="9.9" font-weight="bold" textLength="32.07" lengthAdjust="spacingAndGlyphs" fill="#3b9bc6" fill-opacity="0.8">DIEGO</text>
</g>
<g transform="translate(974.2 55.8) scale(1)">
<clipPath id="clc"><circle cx="0" cy="0" r="50"/></clipPath>
<g clip-path="url(#clc)">
<rect x="-50" y="-50" width="100" height="48.7" fill="#f6931e"/>
<rect x="-50" y="2.1" width="100" height="48" fill="#2c8cba"/>
<rect x="-50" y="2.1" width="100" height="3.6" fill="#1f7099"/>
<rect x="-50" y="9.53" width="100" height="3.6" fill="#1f7099"/>
<rect x="-50" y="16.96" width="100" height="3.6" fill="#1f7099"/>
<rect x="-50" y="24.39" width="100" height="3.6" fill="#1f7099"/>
<rect x="-50" y="31.82" width="100" height="3.6" fill="#1f7099"/>
<rect x="-50" y="39.25" width="100" height="3.6" fill="#1f7099"/>
<rect x="-50" y="46.68" width="100" height="3.6" fill="#1f7099"/>
</g>
<circle cx="0.5" cy="0.5" r="31.8" fill="#fff"/>
<path d="M0 -23.7 C 2.5 -14 15.6 -3 15.5 8.5 C 15.4 17 8.5 22.7 0 22.7 C -8.5 22.7 -15.5 17 -15.5 8.5 C -15.5 -3 -2.5 -14 0 -23.7 Z" fill="#2b8dbb"/>
<path d="M5.1 -13.1 L-10.5 5 L-0.45 9 L-5.45 22.1 L-6 24.5 L-3.2 24.5 L-2.4 22.5 L10.4 8 L0.4 3.8 L6.2 -10 L8.5 -11.5 L7.5 -14.8 Z" fill="#fff"/>
</g>
<g transform="translate(1036.4 36.4) scale(1)">
<text x="-0.6" y="0.3" font-size="15.3" textLength="54.03" lengthAdjust="spacingAndGlyphs" fill="#1f6587" stroke="#1f6587" stroke-width="0.5">Center</text>
<text x="60.21" y="0.3" font-size="15.3" textLength="22.03" lengthAdjust="spacingAndGlyphs" fill="#1f6587" stroke="#1f6587" stroke-width="0.5">for</text>
<text x="88.7" y="0.3" font-size="15.3" textLength="68.03" lengthAdjust="spacingAndGlyphs" fill="#1f6587" stroke="#1f6587" stroke-width="0.5">Western</text>
<text x="161.2" y="0.3" font-size="15.3" textLength="69.14" lengthAdjust="spacingAndGlyphs" fill="#1f6587" stroke="#1f6587" stroke-width="0.5">Weather</text>
<text x="0.05" y="19.1" font-size="15.3" textLength="31.09" lengthAdjust="spacingAndGlyphs" fill="#1f6587" stroke="#1f6587" stroke-width="0.5">and</text>
<text x="37.3" y="19.1" font-size="15.3" textLength="48.34" lengthAdjust="spacingAndGlyphs" fill="#1f6587" stroke="#1f6587" stroke-width="0.5">Water</text>
<text x="90.22" y="19.1" font-size="15.3" textLength="78.03" lengthAdjust="spacingAndGlyphs" fill="#1f6587" stroke="#1f6587" stroke-width="0.5">Extremes</text>
<text x="1.61" y="38.8" font-size="9.9" font-weight="bold" textLength="41.64" lengthAdjust="spacingAndGlyphs" fill="#3b9bc6" fill-opacity="1">SCRIPPS</text>
<text x="46.39" y="38.8" font-size="9.9" font-weight="bold" textLength="63.84" lengthAdjust="spacingAndGlyphs" fill="#3b9bc6" fill-opacity="1">INSTITUTION</text>
<text x="113.61" y="38.8" font-size="9.9" font-weight="bold" textLength="13.59" lengthAdjust="spacingAndGlyphs" fill="#3b9bc6" fill-opacity="1">OF</text>
<text x="130.6" y="38.8" font-size="9.9" font-weight="bold" textLength="87.57" lengthAdjust="spacingAndGlyphs" fill="#3b9bc6" fill-opacity="1">OCEANOGRAPHY</text>
<text x="1.6" y="50.9" font-size="9.9" font-weight="bold" textLength="12.61" lengthAdjust="spacingAndGlyphs" fill="#3b9bc6" fill-opacity="1">AT</text>
<text x="16.83" y="50.9" font-size="9.9" font-weight="bold" textLength="13.78" lengthAdjust="spacingAndGlyphs" fill="#3b9bc6" fill-opacity="1">UC</text>
<text x="34.5" y="50.9" font-size="9.9" font-weight="bold" textLength="20.91" lengthAdjust="spacingAndGlyphs" fill="#3b9bc6" fill-opacity="1">SAN</text>
<text x="58" y="50.9" font-size="9.9" font-weight="bold" textLength="32.07" lengthAdjust="spacingAndGlyphs" fill="#3b9bc6" fill-opacity="1">DIEGO</text>
</g>
<rect x="15.5" y="12.5" width="514" height="55" fill="#d9d9d9" stroke="#000" stroke-width="1"/>
<text x="24.42" y="52.3" font-size="32" font-weight="bold" textLength="42.19" lengthAdjust="spacingAndGlyphs">AR</text>
<text x="75.66" y="52.3" font-size="32" font-weight="bold" textLength="137.45" lengthAdjust="spacingAndGlyphs">Outlook:</text>
<text x="220.32" y="52.3" font-size="32" font-weight="bold" textLength="34.56" lengthAdjust="spacingAndGlyphs">20</text>
<text x="268.02" y="52.3" font-size="32" font-weight="bold" textLength="161.79" lengthAdjust="spacingAndGlyphs">November</text>
<text x="440.24" y="52.3" font-size="32" font-weight="bold" textLength="75.15" lengthAdjust="spacingAndGlyphs">2018</text>
<rect x="582.5" y="22.5" width="320" height="36" fill="#ffe699" stroke="#000" stroke-width="1"/>
<text x="599.9" y="46.9" font-size="18" textLength="25.32" lengthAdjust="spacingAndGlyphs">For</text>
<text x="633.06" y="46.9" font-size="18" textLength="79.37" lengthAdjust="spacingAndGlyphs">California</text>
<text x="720.33" y="46.9" font-size="18" textLength="54.7" lengthAdjust="spacingAndGlyphs">DWR’s</text>
<text x="781.1" y="46.9" font-size="18" textLength="22.69" lengthAdjust="spacingAndGlyphs">AR</text>
<text x="810.48" y="46.9" font-size="18" textLength="72.97" lengthAdjust="spacingAndGlyphs">Program</text>
<rect x="442.5" y="84.5" width="396" height="39" fill="#bfbfbf" stroke="#000" stroke-width="1"/>
<text x="451.87" y="110.6" font-size="20.6" textLength="82.5" lengthAdjust="spacingAndGlyphs">Changes</text>
<text x="540.54" y="110.6" font-size="20.6" textLength="17.63" lengthAdjust="spacingAndGlyphs">in</text>
<text x="563.01" y="110.6" font-size="20.6" textLength="36.76" lengthAdjust="spacingAndGlyphs">GFS</text>
<text x="606.68" y="110.6" font-size="20.6" textLength="95.49" lengthAdjust="spacingAndGlyphs">Ensemble</text>
<text x="705.9" y="110.6" font-size="20.6" textLength="32.03" lengthAdjust="spacingAndGlyphs">IVT</text>
<text x="743.31" y="110.6" font-size="20.6" textLength="82.04" lengthAdjust="spacingAndGlyphs">Forecast</text>
<rect x="430.5" y="212.5" width="160" height="39" fill="#bfbfbf" stroke="#000" stroke-width="1"/>
<text x="463.9" y="238.6" font-size="19.8" textLength="94" lengthAdjust="spacingAndGlyphs">Yesterday</text>
<rect x="1042.5" y="212.5" width="160" height="39" fill="#bfbfbf" stroke="#000" stroke-width="1"/>
<text x="1093" y="238.6" font-size="19.8" textLength="58" lengthAdjust="spacingAndGlyphs">Today</text>
<line x1="438.8" y1="383.5" x2="966.3" y2="358.8" stroke="#000" stroke-width="2.2"/>
<g transform="translate(620.3 376.25) rotate(-3.4)"><rect x="0" y="0" width="110.4" height="28" fill="#fff" stroke="#000" stroke-width="1.35"/><text x="11.8" y="19.2" font-size="13.4" textLength="86" lengthAdjust="spacingAndGlyphs">AR 2 IVT Max</text></g>
<rect x="29.5" y="548.5" width="1222" height="155" fill="#d9d9d9" stroke="#222" stroke-width="1"/>
<text x="37.95" y="574.3" font-size="18.9" font-weight="bold" textLength="83.96" lengthAdjust="spacingAndGlyphs">Changes</text>
<text x="125.62" y="574.3" font-size="18.9" font-weight="bold" textLength="20.49" lengthAdjust="spacingAndGlyphs">in</text>
<text x="150.29" y="574.3" font-size="18.9" font-weight="bold" textLength="80.97" lengthAdjust="spacingAndGlyphs">forecast</text>
<text x="235.79" y="574.3" font-size="18.9" font-weight="bold" textLength="31.43" lengthAdjust="spacingAndGlyphs">IVT</text>
<text x="272.39" y="574.3" font-size="18.9" font-weight="bold" textLength="52.35" lengthAdjust="spacingAndGlyphs">since</text>
<text x="328.72" y="574.3" font-size="18.9" font-weight="bold" textLength="36.8" lengthAdjust="spacingAndGlyphs">last</text>
<text x="370.6" y="574.3" font-size="18.9" font-weight="bold" textLength="85.16" lengthAdjust="spacingAndGlyphs">outlook:</text>
<text x="67.96" y="603.8" font-size="18.9" font-weight="bold" textLength="51.3" lengthAdjust="spacingAndGlyphs">Little</text>
<text x="124.28" y="603.8" font-size="18.9" font-weight="bold" textLength="21.11" lengthAdjust="spacingAndGlyphs">to</text>
<text x="149.18" y="603.8" font-size="18.9" font-weight="bold" textLength="26.95" lengthAdjust="spacingAndGlyphs">no</text>
<text x="180.63" y="603.8" font-size="18.9" font-weight="bold" textLength="72.36" lengthAdjust="spacingAndGlyphs">change</text>
<text x="256.81" y="603.8" font-size="18.9" font-weight="bold" textLength="21.35" lengthAdjust="spacingAndGlyphs">in</text>
<text x="282.28" y="603.8" font-size="18.9" font-weight="bold" textLength="33.25" lengthAdjust="spacingAndGlyphs">the</text>
<text x="320.11" y="603.8" font-size="18.9" font-weight="bold" textLength="72.54" lengthAdjust="spacingAndGlyphs">control</text>
<text x="396.8" y="603.8" font-size="18.9" font-weight="bold" textLength="79.47" lengthAdjust="spacingAndGlyphs">forecast</text>
<text x="480.73" y="603.8" font-size="18.9" font-weight="bold" textLength="32.99" lengthAdjust="spacingAndGlyphs">IVT</text>
<text x="519.09" y="603.8" font-size="18.9" font-weight="bold" textLength="105.86" lengthAdjust="spacingAndGlyphs">associated</text>
<text x="629.73" y="603.8" font-size="18.9" font-weight="bold" textLength="45.35" lengthAdjust="spacingAndGlyphs">with</text>
<text x="679.09" y="603.8" font-size="18.9" font-weight="bold" textLength="29.87" lengthAdjust="spacingAndGlyphs">AR</text>
<text x="713.32" y="603.8" font-size="18.9" font-weight="bold" textLength="10.95" lengthAdjust="spacingAndGlyphs">1</text>
<circle cx="42" cy="596.9" r="2.7" fill="#000"/>
<text x="68.01" y="632.6" font-size="18.9" font-weight="bold" textLength="97.48" lengthAdjust="spacingAndGlyphs">Ensemble</text>
<text x="169.45" y="632.6" font-size="18.9" font-weight="bold" textLength="96.28" lengthAdjust="spacingAndGlyphs">members</text>
<text x="269.49" y="632.6" font-size="18.9" font-weight="bold" textLength="47.76" lengthAdjust="spacingAndGlyphs">have</text>
<text x="321.88" y="632.6" font-size="18.9" font-weight="bold" textLength="104.32" lengthAdjust="spacingAndGlyphs">converged</text>
<text x="430.16" y="632.6" font-size="18.9" font-weight="bold" textLength="57.97" lengthAdjust="spacingAndGlyphs">closer</text>
<text x="493.52" y="632.6" font-size="18.9" font-weight="bold" textLength="21.9" lengthAdjust="spacingAndGlyphs">to</text>
<text x="520.27" y="632.6" font-size="18.9" font-weight="bold" textLength="34.02" lengthAdjust="spacingAndGlyphs">the</text>
<text x="558.85" y="632.6" font-size="18.9" font-weight="bold" textLength="73.06" lengthAdjust="spacingAndGlyphs">control</text>
<text x="636.05" y="632.6" font-size="18.9" font-weight="bold" textLength="79.47" lengthAdjust="spacingAndGlyphs">forecast</text>
<text x="721.47" y="632.6" font-size="18.9" font-weight="bold" textLength="63.57" lengthAdjust="spacingAndGlyphs">within</text>
<text x="789.09" y="632.6" font-size="18.9" font-weight="bold" textLength="29.87" lengthAdjust="spacingAndGlyphs">AR</text>
<text x="823.32" y="632.6" font-size="18.9" font-weight="bold" textLength="10.95" lengthAdjust="spacingAndGlyphs">1</text>
<circle cx="42" cy="625.7" r="2.7" fill="#000"/>
<text x="652.3" y="655.2" font-size="12.4" font-weight="bold" textLength="12.5" lengthAdjust="spacingAndGlyphs">−1</text>
<text x="684.3" y="655.2" font-size="12.4" font-weight="bold" textLength="12.5" lengthAdjust="spacingAndGlyphs">−1</text>
<text x="68.4" y="661.8" font-size="18.9" font-weight="bold" textLength="75.23" lengthAdjust="spacingAndGlyphs">Control</text>
<text x="147.8" y="661.8" font-size="18.9" font-weight="bold" textLength="78.96" lengthAdjust="spacingAndGlyphs">forecast</text>
<text x="231.2" y="661.8" font-size="18.9" font-weight="bold" textLength="33.77" lengthAdjust="spacingAndGlyphs">IVT</text>
<text x="269.46" y="661.8" font-size="18.9" font-weight="bold" textLength="109.06" lengthAdjust="spacingAndGlyphs">magnitude</text>
<text x="382.53" y="661.8" font-size="18.9" font-weight="bold" textLength="34.9" lengthAdjust="spacingAndGlyphs">has</text>
<text x="421.25" y="661.8" font-size="18.9" font-weight="bold" textLength="97.32" lengthAdjust="spacingAndGlyphs">increased</text>
<text x="522.87" y="661.8" font-size="18.9" font-weight="bold" textLength="22.05" lengthAdjust="spacingAndGlyphs">to</text>
<text x="549.33" y="661.8" font-size="18.9" font-weight="bold" textLength="50.07" lengthAdjust="spacingAndGlyphs">~500</text>
<text x="603.06" y="661.8" font-size="18.9" font-weight="bold" textLength="25.99" lengthAdjust="spacingAndGlyphs">kg</text>
<text x="632.15" y="661.8" font-size="18.9" font-weight="bold" textLength="19.98" lengthAdjust="spacingAndGlyphs">m</text>
<text x="673.25" y="661.8" font-size="18.9" font-weight="bold" textLength="9.31" lengthAdjust="spacingAndGlyphs">s</text>
<text x="699" y="661.8" font-size="18.9" font-weight="bold" textLength="5.56" lengthAdjust="spacingAndGlyphs">,</text>
<text x="710.12" y="661.8" font-size="18.9" font-weight="bold" textLength="53.98" lengthAdjust="spacingAndGlyphs">~20%</text>
<text x="768.24" y="661.8" font-size="18.9" font-weight="bold" textLength="90.92" lengthAdjust="spacingAndGlyphs">increase,</text>
<text x="863.97" y="661.8" font-size="18.9" font-weight="bold" textLength="64.08" lengthAdjust="spacingAndGlyphs">within</text>
<text x="932.1" y="661.8" font-size="18.9" font-weight="bold" textLength="28.59" lengthAdjust="spacingAndGlyphs">AR</text>
<text x="965.56" y="661.8" font-size="18.9" font-weight="bold" textLength="12.77" lengthAdjust="spacingAndGlyphs">2</text>
<circle cx="42" cy="654.9" r="2.7" fill="#000"/>
<text x="68.03" y="690.8" font-size="18.9" font-weight="bold" textLength="90.45" lengthAdjust="spacingAndGlyphs">Presence</text>
<text x="163.08" y="690.8" font-size="18.9" font-weight="bold" textLength="20.96" lengthAdjust="spacingAndGlyphs">of</text>
<text x="189.62" y="690.8" font-size="18.9" font-weight="bold" textLength="10.57" lengthAdjust="spacingAndGlyphs">a</text>
<text x="205.63" y="690.8" font-size="18.9" font-weight="bold" textLength="72.33" lengthAdjust="spacingAndGlyphs">second</text>
<text x="281.23" y="690.8" font-size="18.9" font-weight="bold" textLength="32.99" lengthAdjust="spacingAndGlyphs">IVT</text>
<text x="318.71" y="690.8" font-size="18.9" font-weight="bold" textLength="80.19" lengthAdjust="spacingAndGlyphs">maxima</text>
<text x="405.22" y="690.8" font-size="18.9" font-weight="bold" textLength="63.31" lengthAdjust="spacingAndGlyphs">within</text>
<text x="472.59" y="690.8" font-size="18.9" font-weight="bold" textLength="29.35" lengthAdjust="spacingAndGlyphs">AR</text>
<text x="506.86" y="690.8" font-size="18.9" font-weight="bold" textLength="11.86" lengthAdjust="spacingAndGlyphs">2</text>
<text x="522.45" y="690.8" font-size="18.9" font-weight="bold" textLength="18.03" lengthAdjust="spacingAndGlyphs">is</text>
<text x="544.19" y="690.8" font-size="18.9" font-weight="bold" textLength="43.71" lengthAdjust="spacingAndGlyphs">now</text>
<text x="592.46" y="690.8" font-size="18.9" font-weight="bold" textLength="77.55" lengthAdjust="spacingAndGlyphs">present</text>
<text x="674.35" y="690.8" font-size="18.9" font-weight="bold" textLength="20.77" lengthAdjust="spacingAndGlyphs">in</text>
<text x="698.87" y="690.8" font-size="18.9" font-weight="bold" textLength="97.13" lengthAdjust="spacingAndGlyphs">ensemble</text>
<text x="799.88" y="690.8" font-size="18.9" font-weight="bold" textLength="59.45" lengthAdjust="spacingAndGlyphs">mean</text>
<text x="862.91" y="690.8" font-size="18.9" font-weight="bold" textLength="49.96" lengthAdjust="spacingAndGlyphs">(only</text>
<text x="918.1" y="690.8" font-size="18.9" font-weight="bold" textLength="49.16" lengthAdjust="spacingAndGlyphs">seen</text>
<text x="970.35" y="690.8" font-size="18.9" font-weight="bold" textLength="20.77" lengthAdjust="spacingAndGlyphs">in</text>
<text x="994.86" y="690.8" font-size="18.9" font-weight="bold" textLength="72.03" lengthAdjust="spacingAndGlyphs">control</text>
<text x="1071.25" y="690.8" font-size="18.9" font-weight="bold" textLength="105.15" lengthAdjust="spacingAndGlyphs">yesterday)</text>
<circle cx="42" cy="683.9" r="2.7" fill="#000"/>
</svg>
</body></html>
